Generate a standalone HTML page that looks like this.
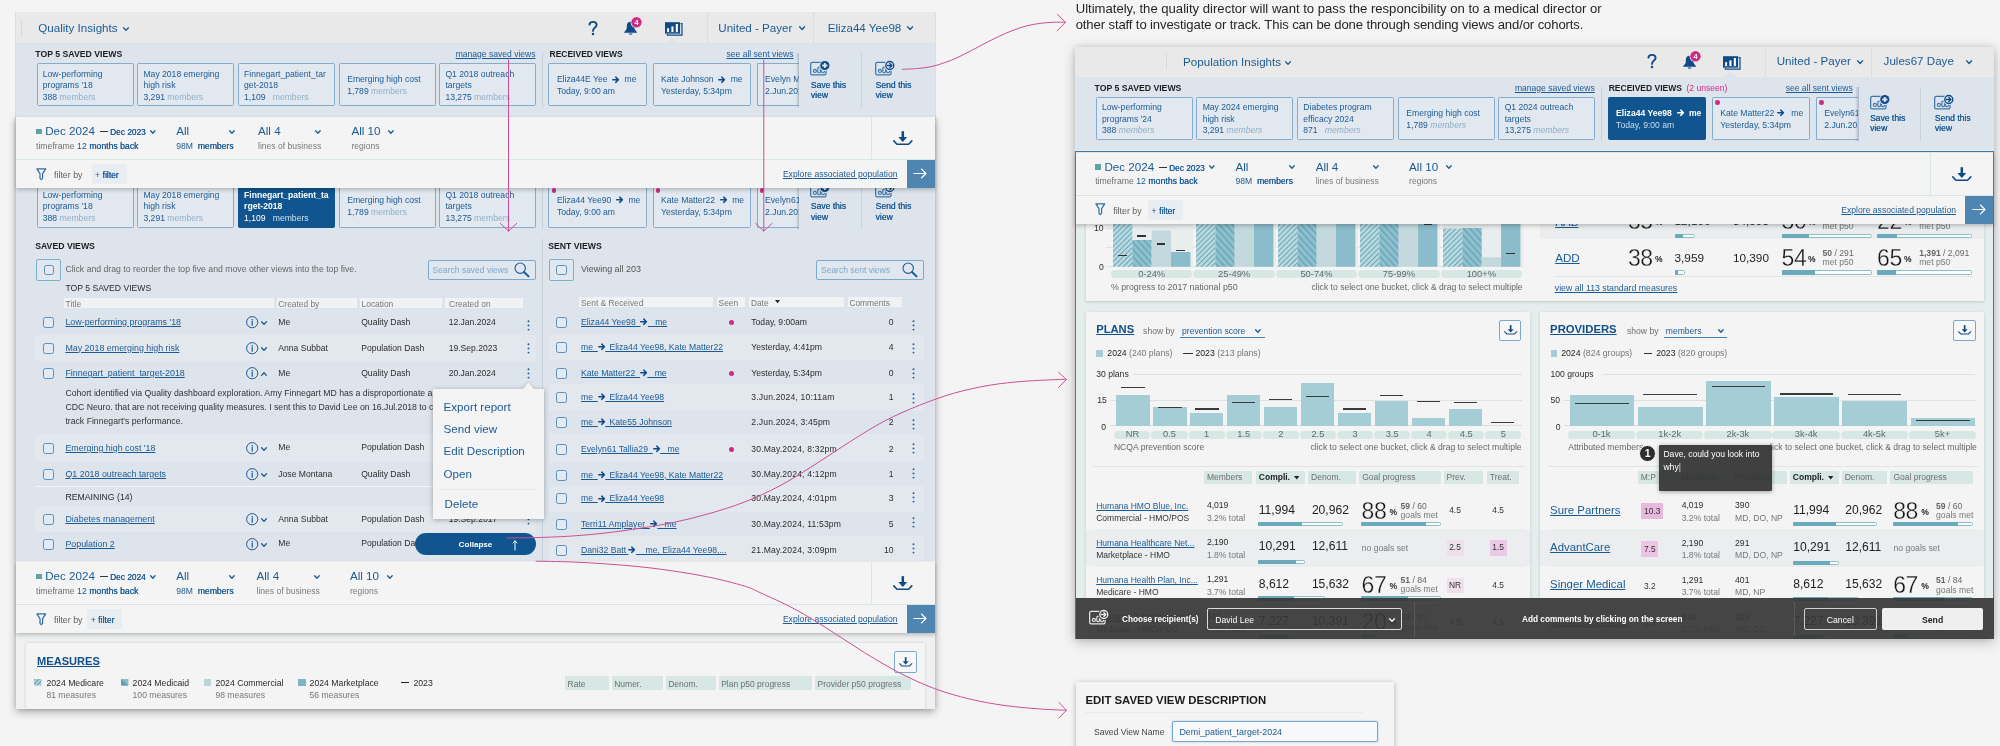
<!DOCTYPE html><html><head><meta charset="utf-8"><title>Saved views</title><style>html,body{margin:0;padding:0}body{width:2000px;height:746px;overflow:hidden;background:#f4f4f4;font-family:"Liberation Sans",sans-serif;position:relative;will-change:transform}div{position:absolute;box-sizing:border-box;white-space:nowrap}svg{position:absolute;overflow:visible}svg.il{position:static;display:inline-block;vertical-align:-0.7px}u{text-decoration:underline;text-decoration-thickness:0.75px;text-underline-offset:0.6px}.sb{text-shadow:0.25px 0 0 currentColor}b{font-weight:700}</style></head><body>
<div style="left:15px;top:11.9px;width:920.9px;height:108.1px;background:#dedede;"></div>
<div style="left:15.5px;top:116.7px;width:919.9px;height:592.1px;background:#eef0f1;box-shadow:0 3px 8px rgba(0,0,0,0.3),0 0 5px rgba(0,0,0,0.12);"></div>
<div style="left:15.5px;top:12.4px;width:919.9px;height:30.6px;background:#e9e9e9;"></div>
<div style="left:21px;top:19px;width:1px;height:17px;background:#d9d9d9;"></div>
<div style="top:21.25px;font-size:11.6px;line-height:14.5px;color:#1b5b95;left:38.3px;">Quality Insights</div>
<svg style="left:122.5px;top:27.1px;" width="6" height="4.2" viewBox="0 0 6 4.2"><path d="M0.6,0.8 L3,3.4 L5.4,0.8" fill="none" stroke="#1b5b95" stroke-width="1.3" stroke-linecap="round" stroke-linejoin="round"/></svg>
<svg style="left:588.2px;top:20.6px;" width="10" height="14.4" viewBox="0 0 10 14.4"><path d="M1.4,3.6 C1.6,1.8 3,0.9 4.9,0.9 C7,0.9 8.6,2.1 8.6,4 C8.6,6.6 5,6.5 5,9.9" fill="none" stroke="#0e4a86" stroke-width="1.9" stroke-linecap="round"/><circle cx="5" cy="13" r="1.25" fill="#0e4a86"/></svg>
<svg style="left:624px;top:17px;" width="20" height="20" viewBox="0 0 20 20"><path d="M6.6,4.8 C3.9,4.8 2.8,6.9 2.8,9.2 V10.8 C2.8,12.6 1.5,13.9 0.3,15 C0,15.4 0.2,15.8 0.7,15.8 H12.5 C13,15.8 13.2,15.4 12.9,15 C11.7,13.9 10.4,12.6 10.4,10.8 V9.2 C10.4,6.9 9.3,4.8 6.6,4.8 Z" fill="#0e4a86"/><path d="M4.6,16.4 a2.1,2.1 0 0 0 4,0 Z" fill="#0e4a86"/><circle cx="12.5" cy="5.3" r="5.9" fill="#f3eef1"/><circle cx="12.5" cy="5.3" r="5.2" fill="#cc2d82"/><text x="12.5" y="8" font-size="7.4" font-weight="700" fill="#fff" text-anchor="middle" font-family="Liberation Sans,sans-serif">4</text></svg>
<svg style="left:664.6px;top:22px;" width="18" height="14" viewBox="0 0 18 14"><path d="M15.6,1.6 H17 V13.2 H2.4 V12" fill="none" stroke="#0e4a86" stroke-width="1.2"/><rect x="0" y="0.2" width="15.1" height="11.5" fill="#0e4a86"/><rect x="2.1" y="6.2" width="2" height="3.8" fill="#fff"/><rect x="6.4" y="4.4" width="2.1" height="5.6" fill="#fff"/><rect x="10.8" y="2" width="2.1" height="8" fill="#fff"/><rect x="1.2" y="10.7" width="12.8" height="0.5" fill="#7fa3c6"/></svg>
<svg style="left:666.2px;top:38px;" width="12.4" height="5.2" viewBox="0 0 12.4 5.2"><path d="M0,5.2 L6.2,0 L12.4,5.2 Z" fill="#dde4ec"/></svg>
<div style="left:707px;top:12.4px;width:1px;height:30.6px;background:#dcdcdc;"></div>
<div style="top:20.55px;font-size:11.6px;line-height:14.5px;color:#1b5b95;left:718.3px;">United - Payer</div>
<svg style="left:798.5px;top:26.45px;" width="6.2" height="4.3" viewBox="0 0 6.2 4.3"><path d="M0.6,0.8 L3.1,3.5 L5.6,0.8" fill="none" stroke="#1b5b95" stroke-width="1.3" stroke-linecap="round" stroke-linejoin="round"/></svg>
<div style="left:813px;top:12.4px;width:1px;height:30.6px;background:#dcdcdc;"></div>
<div style="top:20.55px;font-size:11.6px;line-height:14.5px;color:#1b5b95;left:827.8px;">Eliza44 Yee98</div>
<svg style="left:907.3px;top:26.45px;" width="6.2" height="4.3" viewBox="0 0 6.2 4.3"><path d="M0.6,0.8 L3.1,3.5 L5.6,0.8" fill="none" stroke="#1b5b95" stroke-width="1.3" stroke-linecap="round" stroke-linejoin="round"/></svg>
<div style="left:15.5px;top:43px;width:919.9px;height:73.8px;background:#dde4ec;"></div>
<div style="top:48.55px;font-size:8.7px;line-height:10.9px;color:#1d1d1d;font-weight:700;left:35.3px;">TOP 5 SAVED VIEWS</div>
<div style="top:48.85px;font-size:8.55px;line-height:10.7px;color:#1b5b95;left:455.7px;"><u>manage saved views</u></div>
<div style="top:48.7px;font-size:8.5px;line-height:10.6px;color:#1d1d1d;font-weight:700;left:549.5px;">RECEIVED VIEWS</div>
<div style="top:48.85px;font-size:8.55px;line-height:10.7px;color:#1b5b95;left:726.5px;"><u>see all sent views</u></div>
<div style="left:542px;top:53.3px;width:1px;height:53.9px;background:#c3cfdb;"></div>
<div style="left:36.6px;top:63.4px;width:97px;height:43px;border:1px solid #86accd;background:#e1e8ef;border-radius:1.5px;overflow:hidden;">
<div style="left:5.2px;top:4.35px;font-size:8.6px;line-height:11.5px;color:#1b5b95;">Low-performing</div>
<div style="left:5.2px;top:15.85px;font-size:8.6px;line-height:11.5px;color:#1b5b95;">programs '18</div>
<div style="left:5.2px;top:27.35px;font-size:8.6px;line-height:11.5px;color:#1b5b95;">388 <span style="color:#8fb0c9;">members</span></div>
</div>
<div style="left:137.26px;top:63.4px;width:97px;height:43px;border:1px solid #86accd;background:#e1e8ef;border-radius:1.5px;overflow:hidden;">
<div style="left:5.2px;top:4.35px;font-size:8.6px;line-height:11.5px;color:#1b5b95;">May 2018 emerging</div>
<div style="left:5.2px;top:15.85px;font-size:8.6px;line-height:11.5px;color:#1b5b95;">high risk</div>
<div style="left:5.2px;top:27.35px;font-size:8.6px;line-height:11.5px;color:#1b5b95;">3,291 <span style="color:#8fb0c9;">members</span></div>
</div>
<div style="left:237.92px;top:63.4px;width:97px;height:43px;border:1px solid #86accd;background:#e1e8ef;border-radius:1.5px;overflow:hidden;">
<div style="left:5.2px;top:4.35px;font-size:8.6px;line-height:11.5px;color:#1b5b95;">Finnegart_patient_tar</div>
<div style="left:5.2px;top:15.85px;font-size:8.6px;line-height:11.5px;color:#1b5b95;">get-2018</div>
<div style="left:5.2px;top:27.35px;font-size:8.6px;line-height:11.5px;color:#1b5b95;">1,109 &nbsp; <span style="color:#8fb0c9;">members</span></div>
</div>
<div style="left:338.58px;top:63.4px;width:97px;height:43px;border:1px solid #86accd;background:#e1e8ef;border-radius:1.5px;overflow:hidden;">
<div style="left:7.6px;top:10.1px;font-size:8.6px;line-height:11.5px;color:#1b5b95;">Emerging high cost</div>
<div style="left:7.6px;top:21.6px;font-size:8.6px;line-height:11.5px;color:#1b5b95;">1,789 <span style="color:#8fb0c9;">members</span></div>
</div>
<div style="left:439.24px;top:63.4px;width:97px;height:43px;border:1px solid #86accd;background:#e1e8ef;border-radius:1.5px;overflow:hidden;">
<div style="left:5.2px;top:4.35px;font-size:8.6px;line-height:11.5px;color:#1b5b95;">Q1 2018 outreach</div>
<div style="left:5.2px;top:15.85px;font-size:8.6px;line-height:11.5px;color:#1b5b95;">targets</div>
<div style="left:5.2px;top:27.35px;font-size:8.6px;line-height:11.5px;color:#1b5b95;">13,275 <span style="color:#8fb0c9;">members</span></div>
</div>
<div style="left:548.3px;top:63.4px;width:98.8px;height:43px;border:1px solid #86accd;background:#e1e8ef;border-radius:1.5px;overflow:hidden;">
<div style="left:7.6px;top:10.1px;font-size:8.6px;line-height:11.5px;color:#1b5b95;">Eliza44E Yee &nbsp;<svg class="il" width="7.5" height="7.5" viewBox="0 0 10 10"><path d="M1,5 H8.3 M5,1.5 L8.6,5 L5,8.5" fill="none" stroke="#0e4a86" stroke-width="1.9" stroke-linecap="round" stroke-linejoin="round"/></svg>&nbsp; me</div>
<div style="left:7.6px;top:21.6px;font-size:8.6px;line-height:11.5px;color:#1b5b95;">Today, 9:00 am</div>
</div>
<div style="left:652.5px;top:63.4px;width:98.8px;height:43px;border:1px solid #86accd;background:#e1e8ef;border-radius:1.5px;overflow:hidden;">
<div style="left:7.6px;top:10.1px;font-size:8.6px;line-height:11.5px;color:#1b5b95;">Kate Johnson &nbsp;<svg class="il" width="7.5" height="7.5" viewBox="0 0 10 10"><path d="M1,5 H8.3 M5,1.5 L8.6,5 L5,8.5" fill="none" stroke="#0e4a86" stroke-width="1.9" stroke-linecap="round" stroke-linejoin="round"/></svg>&nbsp; me</div>
<div style="left:7.6px;top:21.6px;font-size:8.6px;line-height:11.5px;color:#1b5b95;">Yesterday, 5:34pm</div>
</div>
<div style="left:756.5px;top:63.4px;width:43px;height:43px;border:1px solid #86accd;background:#e1e8ef;border-radius:1.5px;overflow:hidden;border-right:none;border-radius:1.5px 0 0 1.5px;">
<div style="left:7.6px;top:10.1px;font-size:8.6px;line-height:11.5px;color:#1b5b95;">Evelyn M</div>
<div style="left:7.6px;top:21.6px;font-size:8.6px;line-height:11.5px;color:#1b5b95;">2.Jun.2017</div>
</div>
<div style="left:799px;top:53.3px;width:136px;height:53.7px;background:#dde4ec;"></div>
<div style="left:795.6px;top:53.3px;width:3.8px;height:53.7px;background:linear-gradient(90deg,rgba(70,90,120,0),rgba(70,90,120,0.32));"></div>
<svg style="left:810.3px;top:61.4px;" width="20.6" height="14.6" viewBox="0 0 20.6 14.6"><rect x="0.65" y="1.3" width="15.4" height="12.6" rx="1.6" fill="none" stroke="#3f78ac" stroke-width="1.25"/><circle cx="4.9" cy="9.9" r="1.55" fill="none" stroke="#3f78ac" stroke-width="1.15"/><rect x="7.8" y="6.2" width="2.7" height="5.6" rx="1.35" fill="none" stroke="#3f78ac" stroke-width="1.15"/><rect x="11.7" y="6.2" width="2.7" height="5.6" rx="1.35" fill="none" stroke="#3f78ac" stroke-width="1.15"/><circle cx="14.8" cy="4.5" r="5.5" fill="#dde4ec"/><circle cx="14.8" cy="4.5" r="4.6" fill="#0e4a86"/><path d="M14.8,1.9 V7.1 M12.2,4.5 H17.4" stroke="#dde4ec" stroke-width="1.8"/></svg>
<div style="top:79.6px;font-size:8.6px;line-height:10.8px;color:#1b5b95;left:810.7px;"><span class="sb">Save this</span></div>
<div style="top:89.8px;font-size:8.6px;line-height:10.8px;color:#1b5b95;left:810.7px;"><span class="sb">view</span></div>
<div style="left:861.2px;top:53.3px;width:1px;height:53.7px;background:#c9d4df;"></div>
<svg style="left:874.8px;top:61.4px;" width="20.6" height="14.6" viewBox="0 0 20.6 14.6"><rect x="0.65" y="1.3" width="15.4" height="12.6" rx="1.6" fill="none" stroke="#3f78ac" stroke-width="1.25"/><circle cx="4.9" cy="9.9" r="1.55" fill="none" stroke="#3f78ac" stroke-width="1.15"/><rect x="7.8" y="6.2" width="2.7" height="5.6" rx="1.35" fill="none" stroke="#3f78ac" stroke-width="1.15"/><rect x="11.7" y="6.2" width="2.7" height="5.6" rx="1.35" fill="none" stroke="#3f78ac" stroke-width="1.15"/><circle cx="14.8" cy="4.5" r="5.5" fill="#dde4ec"/><circle cx="14.8" cy="4.5" r="4" fill="#dde4ec" stroke="#0e4a86" stroke-width="1.35"/><path d="M12.4,4.5 H16.6 M14.9,2.5 L17,4.5 L14.9,6.5" fill="none" stroke="#0e4a86" stroke-width="1.3" stroke-linecap="round" stroke-linejoin="round"/></svg>
<div style="top:79.6px;font-size:8.6px;line-height:10.8px;color:#1b5b95;left:875.5px;"><span class="sb">Send this</span></div>
<div style="top:89.8px;font-size:8.6px;line-height:10.8px;color:#1b5b95;left:875.5px;"><span class="sb">view</span></div>
<div style="left:15.5px;top:187px;width:919.9px;height:373.8px;background:#dde4ec;"></div>
<div style="left:542px;top:175.1px;width:1px;height:53.9px;background:#c3cfdb;"></div>
<div style="left:36.6px;top:185.2px;width:97px;height:43px;border:1px solid #86accd;background:#e1e8ef;border-radius:1.5px;overflow:hidden;">
<div style="left:5.2px;top:3.35px;font-size:8.6px;line-height:11.5px;color:#1b5b95;">Low-performing</div>
<div style="left:5.2px;top:14.85px;font-size:8.6px;line-height:11.5px;color:#1b5b95;">programs '18</div>
<div style="left:5.2px;top:26.35px;font-size:8.6px;line-height:11.5px;color:#1b5b95;">388 <span style="color:#8fb0c9;">members</span></div>
</div>
<div style="left:137.26px;top:185.2px;width:97px;height:43px;border:1px solid #86accd;background:#e1e8ef;border-radius:1.5px;overflow:hidden;">
<div style="left:5.2px;top:3.35px;font-size:8.6px;line-height:11.5px;color:#1b5b95;">May 2018 emerging</div>
<div style="left:5.2px;top:14.85px;font-size:8.6px;line-height:11.5px;color:#1b5b95;">high risk</div>
<div style="left:5.2px;top:26.35px;font-size:8.6px;line-height:11.5px;color:#1b5b95;">3,291 <span style="color:#8fb0c9;">members</span></div>
</div>
<div style="left:237.92px;top:185.2px;width:97px;height:43px;border:1px solid #10558f;background:#10558f;border-radius:1.5px;overflow:hidden;">
<div style="left:5.2px;top:3.35px;font-size:8.6px;line-height:11.5px;color:#fff;"><b>Finnegart_patient_ta</b></div>
<div style="left:5.2px;top:14.85px;font-size:8.6px;line-height:11.5px;color:#fff;"><b>rget-2018</b></div>
<div style="left:5.2px;top:26.35px;font-size:8.6px;line-height:11.5px;color:#fff;">1,109 &nbsp; <span style="color:#cfe0ee;">members</span></div>
</div>
<div style="left:338.58px;top:185.2px;width:97px;height:43px;border:1px solid #86accd;background:#e1e8ef;border-radius:1.5px;overflow:hidden;">
<div style="left:7.6px;top:9.1px;font-size:8.6px;line-height:11.5px;color:#1b5b95;">Emerging high cost</div>
<div style="left:7.6px;top:20.6px;font-size:8.6px;line-height:11.5px;color:#1b5b95;">1,789 <span style="color:#8fb0c9;">members</span></div>
</div>
<div style="left:439.24px;top:185.2px;width:97px;height:43px;border:1px solid #86accd;background:#e1e8ef;border-radius:1.5px;overflow:hidden;">
<div style="left:5.2px;top:3.35px;font-size:8.6px;line-height:11.5px;color:#1b5b95;">Q1 2018 outreach</div>
<div style="left:5.2px;top:14.85px;font-size:8.6px;line-height:11.5px;color:#1b5b95;">targets</div>
<div style="left:5.2px;top:26.35px;font-size:8.6px;line-height:11.5px;color:#1b5b95;">13,275 <span style="color:#8fb0c9;">members</span></div>
</div>
<div style="left:548.3px;top:185.2px;width:98.8px;height:43px;border:1px solid #86accd;background:#e1e8ef;border-radius:1.5px;overflow:hidden;">
<div style="left:7.6px;top:9.1px;font-size:8.6px;line-height:11.5px;color:#1b5b95;">Eliza44 Yee90 &nbsp;<svg class="il" width="7.5" height="7.5" viewBox="0 0 10 10"><path d="M1,5 H8.3 M5,1.5 L8.6,5 L5,8.5" fill="none" stroke="#0e4a86" stroke-width="1.9" stroke-linecap="round" stroke-linejoin="round"/></svg>&nbsp; me</div>
<div style="left:7.6px;top:20.6px;font-size:8.6px;line-height:11.5px;color:#1b5b95;">Today, 9:00 am</div>
</div>
<div style="left:551.6px;top:188.3px;width:4.6px;height:4.6px;border-radius:50%;background:#cc2d82;"></div>
<div style="left:652.5px;top:185.2px;width:98.8px;height:43px;border:1px solid #86accd;background:#e1e8ef;border-radius:1.5px;overflow:hidden;">
<div style="left:7.6px;top:9.1px;font-size:8.6px;line-height:11.5px;color:#1b5b95;">Kate Matter22 &nbsp;<svg class="il" width="7.5" height="7.5" viewBox="0 0 10 10"><path d="M1,5 H8.3 M5,1.5 L8.6,5 L5,8.5" fill="none" stroke="#0e4a86" stroke-width="1.9" stroke-linecap="round" stroke-linejoin="round"/></svg>&nbsp; me</div>
<div style="left:7.6px;top:20.6px;font-size:8.6px;line-height:11.5px;color:#1b5b95;">Yesterday, 5:34pm</div>
</div>
<div style="left:655.8px;top:188.3px;width:4.6px;height:4.6px;border-radius:50%;background:#cc2d82;"></div>
<div style="left:756.5px;top:185.2px;width:43px;height:43px;border:1px solid #86accd;background:#e1e8ef;border-radius:1.5px;overflow:hidden;border-right:none;border-radius:1.5px 0 0 1.5px;">
<div style="left:7.6px;top:9.1px;font-size:8.6px;line-height:11.5px;color:#1b5b95;">Evelyn61</div>
<div style="left:7.6px;top:20.6px;font-size:8.6px;line-height:11.5px;color:#1b5b95;">2.Jun.2017</div>
</div>
<div style="left:759.8px;top:188.3px;width:4.6px;height:4.6px;border-radius:50%;background:#cc2d82;"></div>
<div style="left:799px;top:175.1px;width:136px;height:53.7px;background:#dde4ec;"></div>
<div style="left:795.6px;top:175.1px;width:3.8px;height:53.7px;background:linear-gradient(90deg,rgba(70,90,120,0),rgba(70,90,120,0.32));"></div>
<svg style="left:810.3px;top:183.2px;" width="20.6" height="14.6" viewBox="0 0 20.6 14.6"><rect x="0.65" y="1.3" width="15.4" height="12.6" rx="1.6" fill="none" stroke="#3f78ac" stroke-width="1.25"/><circle cx="4.9" cy="9.9" r="1.55" fill="none" stroke="#3f78ac" stroke-width="1.15"/><rect x="7.8" y="6.2" width="2.7" height="5.6" rx="1.35" fill="none" stroke="#3f78ac" stroke-width="1.15"/><rect x="11.7" y="6.2" width="2.7" height="5.6" rx="1.35" fill="none" stroke="#3f78ac" stroke-width="1.15"/><circle cx="14.8" cy="4.5" r="5.5" fill="#dde4ec"/><circle cx="14.8" cy="4.5" r="4.6" fill="#0e4a86"/><path d="M14.8,1.9 V7.1 M12.2,4.5 H17.4" stroke="#dde4ec" stroke-width="1.8"/></svg>
<div style="top:201.4px;font-size:8.6px;line-height:10.8px;color:#1b5b95;left:810.7px;"><span class="sb">Save this</span></div>
<div style="top:211.6px;font-size:8.6px;line-height:10.8px;color:#1b5b95;left:810.7px;"><span class="sb">view</span></div>
<div style="left:861.2px;top:175.1px;width:1px;height:53.7px;background:#c9d4df;"></div>
<svg style="left:874.8px;top:183.2px;" width="20.6" height="14.6" viewBox="0 0 20.6 14.6"><rect x="0.65" y="1.3" width="15.4" height="12.6" rx="1.6" fill="none" stroke="#3f78ac" stroke-width="1.25"/><circle cx="4.9" cy="9.9" r="1.55" fill="none" stroke="#3f78ac" stroke-width="1.15"/><rect x="7.8" y="6.2" width="2.7" height="5.6" rx="1.35" fill="none" stroke="#3f78ac" stroke-width="1.15"/><rect x="11.7" y="6.2" width="2.7" height="5.6" rx="1.35" fill="none" stroke="#3f78ac" stroke-width="1.15"/><circle cx="14.8" cy="4.5" r="5.5" fill="#dde4ec"/><circle cx="14.8" cy="4.5" r="4" fill="#dde4ec" stroke="#0e4a86" stroke-width="1.35"/><path d="M12.4,4.5 H16.6 M14.9,2.5 L17,4.5 L14.9,6.5" fill="none" stroke="#0e4a86" stroke-width="1.3" stroke-linecap="round" stroke-linejoin="round"/></svg>
<div style="top:201.4px;font-size:8.6px;line-height:10.8px;color:#1b5b95;left:875.5px;"><span class="sb">Send this</span></div>
<div style="top:211.6px;font-size:8.6px;line-height:10.8px;color:#1b5b95;left:875.5px;"><span class="sb">view</span></div>
<div style="left:542.2px;top:239px;width:1px;height:321.8px;background:#c3cfdb;"></div>
<div style="top:240.85px;font-size:8.7px;line-height:10.9px;color:#1d1d1d;font-weight:700;left:35.2px;">SAVED VIEWS</div>
<div style="left:36.4px;top:259.3px;width:25px;height:21.4px;border:1px solid #7fb0cb;border-radius:2px;background:#e0e7ee;"></div>
<div style="left:43.6px;top:264.6px;width:10.9px;height:10.9px;border:1.25px solid #5a90bb;border-radius:2.4px;background:#e4eaf1;"></div>
<div style="top:264.15px;font-size:8.7px;line-height:10.9px;color:#666;left:65.4px;">Click and drag to reorder the top five and move other views into the top five.</div>
<div style="left:427.5px;top:259.6px;width:108.3px;height:20.7px;border:1px solid #7ba8cc;border-radius:2px;background:#e0e7ee;"></div>
<div style="top:264.9px;font-size:8.5px;line-height:10.6px;color:#7ba8cc;left:432.6px;">Search saved views</div>
<svg style="left:513.8px;top:262.2px;" width="16" height="15.6" viewBox="0 0 16 15.6"><circle cx="6.2" cy="6.2" r="5.2" fill="none" stroke="#1b5b95" stroke-width="1.1"/><path d="M10,10 L14.6,14.4" stroke="#1b5b95" stroke-width="2" stroke-linecap="round"/></svg>
<div style="top:282.6px;font-size:8.65px;line-height:10.8px;color:#2a2a2a;left:65.4px;">TOP 5 SAVED VIEWS</div>
<div style="left:64px;top:298.4px;width:209.6px;height:10.1px;background:#f1f2f3;"></div>
<div style="top:299.25px;font-size:8.4px;line-height:10.5px;color:#777;left:65.6px;">Title</div>
<div style="left:276.7px;top:298.4px;width:80.3px;height:10.1px;background:#f1f2f3;"></div>
<div style="top:299.25px;font-size:8.4px;line-height:10.5px;color:#777;left:278.3px;">Created by</div>
<div style="left:360px;top:298.4px;width:82.2px;height:10.1px;background:#f1f2f3;"></div>
<div style="top:299.25px;font-size:8.4px;line-height:10.5px;color:#777;left:361.6px;">Location</div>
<div style="left:445.2px;top:298.4px;width:77.9px;height:10.1px;background:#f1f2f3;"></div>
<div style="top:299.25px;font-size:8.4px;line-height:10.5px;color:#777;left:446.8px;">&nbsp;Created on</div>
<div style="left:35.2px;top:335.1px;width:500.6px;height:25.6px;background:#e3e8ef;"></div>
<div style="left:35.2px;top:435.4px;width:500.6px;height:25.6px;background:#e3e8ef;"></div>
<div style="left:35.2px;top:506.8px;width:500.6px;height:25.6px;background:#e3e8ef;"></div>
<div style="left:42.8px;top:317.1px;width:11px;height:11px;border:1.25px solid #5a90bb;border-radius:2.4px;background:#e4eaf1;"></div>
<div style="top:316.95px;font-size:8.9px;line-height:11.1px;color:#1b5b95;left:65.4px;"><u>Low-performing programs '18</u></div>
<svg style="left:245.8px;top:316.1px;" width="12.4" height="12.4" viewBox="0 0 12.4 12.4"><circle cx="6.2" cy="6.2" r="5.6" fill="none" stroke="#1b5b95" stroke-width="1"/><circle cx="6.2" cy="3.7" r="0.8" fill="#1b5b95"/><path d="M6.2,5.4 V9.2" stroke="#1b5b95" stroke-width="1.2" stroke-linecap="round"/></svg>
<svg style="left:261.3px;top:321px;" width="6" height="4.2" viewBox="0 0 6 4.2"><path d="M0.6,0.8 L3,3.4 L5.4,0.8" fill="none" stroke="#1b5b95" stroke-width="1.3" stroke-linecap="round" stroke-linejoin="round"/></svg>
<div style="top:317.1px;font-size:8.6px;line-height:10.8px;color:#2d2d2d;left:278.3px;">Me</div>
<div style="top:317.1px;font-size:8.6px;line-height:10.8px;color:#2d2d2d;left:361.2px;">Quality Dash</div>
<div style="top:317.15px;font-size:8.55px;line-height:10.7px;color:#2d2d2d;left:448.7px;">12.Jan.2024</div>
<svg style="left:526.8px;top:319.5px;" width="3" height="10.8" viewBox="0 0 3 10.8"><circle cx="1.5" cy="1.2" r="0.95" fill="#1b5b95"/><circle cx="1.5" cy="5.4" r="0.95" fill="#1b5b95"/><circle cx="1.5" cy="9.6" r="0.95" fill="#1b5b95"/></svg>
<div style="left:42.8px;top:342.7px;width:11px;height:11px;border:1.25px solid #5a90bb;border-radius:2.4px;background:#e4eaf1;"></div>
<div style="top:342.55px;font-size:8.9px;line-height:11.1px;color:#1b5b95;left:65.4px;"><u>May 2018 emerging high risk</u></div>
<svg style="left:245.8px;top:341.7px;" width="12.4" height="12.4" viewBox="0 0 12.4 12.4"><circle cx="6.2" cy="6.2" r="5.6" fill="none" stroke="#1b5b95" stroke-width="1"/><circle cx="6.2" cy="3.7" r="0.8" fill="#1b5b95"/><path d="M6.2,5.4 V9.2" stroke="#1b5b95" stroke-width="1.2" stroke-linecap="round"/></svg>
<svg style="left:261.3px;top:346.6px;" width="6" height="4.2" viewBox="0 0 6 4.2"><path d="M0.6,0.8 L3,3.4 L5.4,0.8" fill="none" stroke="#1b5b95" stroke-width="1.3" stroke-linecap="round" stroke-linejoin="round"/></svg>
<div style="top:342.7px;font-size:8.6px;line-height:10.8px;color:#2d2d2d;left:278.3px;">Anna Subbat</div>
<div style="top:342.7px;font-size:8.6px;line-height:10.8px;color:#2d2d2d;left:361.2px;">Population Dash</div>
<div style="top:342.75px;font-size:8.55px;line-height:10.7px;color:#2d2d2d;left:448.7px;">19.Sep.2023</div>
<svg style="left:526.8px;top:343.2px;" width="3" height="10.8" viewBox="0 0 3 10.8"><circle cx="1.5" cy="1.2" r="0.95" fill="#1b5b95"/><circle cx="1.5" cy="5.4" r="0.95" fill="#1b5b95"/><circle cx="1.5" cy="9.6" r="0.95" fill="#1b5b95"/></svg>
<div style="left:42.8px;top:368px;width:11px;height:11px;border:1.25px solid #5a90bb;border-radius:2.4px;background:#e4eaf1;"></div>
<div style="top:367.85px;font-size:8.9px;line-height:11.1px;color:#1b5b95;left:65.4px;"><u>Finnegart_patient_target-2018</u></div>
<svg style="left:245.8px;top:367px;" width="12.4" height="12.4" viewBox="0 0 12.4 12.4"><circle cx="6.2" cy="6.2" r="5.6" fill="none" stroke="#1b5b95" stroke-width="1"/><circle cx="6.2" cy="3.7" r="0.8" fill="#1b5b95"/><path d="M6.2,5.4 V9.2" stroke="#1b5b95" stroke-width="1.2" stroke-linecap="round"/></svg>
<svg style="left:261.3px;top:371.9px;" width="6" height="4.2" viewBox="0 0 6 4.2"><path d="M0.6,3.4 L3,0.8 L5.4,3.4" fill="none" stroke="#1b5b95" stroke-width="1.3" stroke-linecap="round" stroke-linejoin="round"/></svg>
<div style="top:368px;font-size:8.6px;line-height:10.8px;color:#2d2d2d;left:278.3px;">Me</div>
<div style="top:368px;font-size:8.6px;line-height:10.8px;color:#2d2d2d;left:361.2px;">Quality Dash</div>
<div style="top:368.05px;font-size:8.55px;line-height:10.7px;color:#2d2d2d;left:448.7px;">20.Jan.2024</div>
<svg style="left:526.8px;top:367.6px;" width="3" height="10.8" viewBox="0 0 3 10.8"><circle cx="1.5" cy="1.2" r="0.95" fill="#1b5b95"/><circle cx="1.5" cy="5.4" r="0.95" fill="#1b5b95"/><circle cx="1.5" cy="9.6" r="0.95" fill="#1b5b95"/></svg>
<div style="left:42.8px;top:443px;width:11px;height:11px;border:1.25px solid #5a90bb;border-radius:2.4px;background:#e4eaf1;"></div>
<div style="top:442.85px;font-size:8.9px;line-height:11.1px;color:#1b5b95;left:65.4px;"><u>Emerging high cost '18</u></div>
<svg style="left:245.8px;top:442px;" width="12.4" height="12.4" viewBox="0 0 12.4 12.4"><circle cx="6.2" cy="6.2" r="5.6" fill="none" stroke="#1b5b95" stroke-width="1"/><circle cx="6.2" cy="3.7" r="0.8" fill="#1b5b95"/><path d="M6.2,5.4 V9.2" stroke="#1b5b95" stroke-width="1.2" stroke-linecap="round"/></svg>
<svg style="left:261.3px;top:446.9px;" width="6" height="4.2" viewBox="0 0 6 4.2"><path d="M0.6,0.8 L3,3.4 L5.4,0.8" fill="none" stroke="#1b5b95" stroke-width="1.3" stroke-linecap="round" stroke-linejoin="round"/></svg>
<div style="top:441.8px;font-size:8.6px;line-height:10.8px;color:#2d2d2d;left:278.3px;">Me</div>
<div style="top:441.8px;font-size:8.6px;line-height:10.8px;color:#2d2d2d;left:361.2px;">Population Dash</div>
<svg style="left:526.8px;top:446px;" width="3" height="10.8" viewBox="0 0 3 10.8"><circle cx="1.5" cy="1.2" r="0.95" fill="#1b5b95"/><circle cx="1.5" cy="5.4" r="0.95" fill="#1b5b95"/><circle cx="1.5" cy="9.6" r="0.95" fill="#1b5b95"/></svg>
<div style="left:42.8px;top:469.2px;width:11px;height:11px;border:1.25px solid #5a90bb;border-radius:2.4px;background:#e4eaf1;"></div>
<div style="top:469.05px;font-size:8.9px;line-height:11.1px;color:#1b5b95;left:65.4px;"><u>Q1 2018 outreach targets</u></div>
<svg style="left:245.8px;top:468.2px;" width="12.4" height="12.4" viewBox="0 0 12.4 12.4"><circle cx="6.2" cy="6.2" r="5.6" fill="none" stroke="#1b5b95" stroke-width="1"/><circle cx="6.2" cy="3.7" r="0.8" fill="#1b5b95"/><path d="M6.2,5.4 V9.2" stroke="#1b5b95" stroke-width="1.2" stroke-linecap="round"/></svg>
<svg style="left:261.3px;top:473.1px;" width="6" height="4.2" viewBox="0 0 6 4.2"><path d="M0.6,0.8 L3,3.4 L5.4,0.8" fill="none" stroke="#1b5b95" stroke-width="1.3" stroke-linecap="round" stroke-linejoin="round"/></svg>
<div style="top:469.2px;font-size:8.6px;line-height:10.8px;color:#2d2d2d;left:278.3px;">Jose Montana</div>
<div style="top:469.2px;font-size:8.6px;line-height:10.8px;color:#2d2d2d;left:361.2px;">Quality Dash</div>
<svg style="left:526.8px;top:472.2px;" width="3" height="10.8" viewBox="0 0 3 10.8"><circle cx="1.5" cy="1.2" r="0.95" fill="#1b5b95"/><circle cx="1.5" cy="5.4" r="0.95" fill="#1b5b95"/><circle cx="1.5" cy="9.6" r="0.95" fill="#1b5b95"/></svg>
<div style="left:42.8px;top:514px;width:11px;height:11px;border:1.25px solid #5a90bb;border-radius:2.4px;background:#e4eaf1;"></div>
<div style="top:514.25px;font-size:8.9px;line-height:11.1px;color:#1b5b95;left:65.4px;"><u>Diabetes management</u></div>
<svg style="left:245.8px;top:513.4px;" width="12.4" height="12.4" viewBox="0 0 12.4 12.4"><circle cx="6.2" cy="6.2" r="5.6" fill="none" stroke="#1b5b95" stroke-width="1"/><circle cx="6.2" cy="3.7" r="0.8" fill="#1b5b95"/><path d="M6.2,5.4 V9.2" stroke="#1b5b95" stroke-width="1.2" stroke-linecap="round"/></svg>
<svg style="left:261.3px;top:518.3px;" width="6" height="4.2" viewBox="0 0 6 4.2"><path d="M0.6,0.8 L3,3.4 L5.4,0.8" fill="none" stroke="#1b5b95" stroke-width="1.3" stroke-linecap="round" stroke-linejoin="round"/></svg>
<div style="top:514.4px;font-size:8.6px;line-height:10.8px;color:#2d2d2d;left:278.3px;">Anna Subbat</div>
<div style="top:514.4px;font-size:8.6px;line-height:10.8px;color:#2d2d2d;left:361.2px;">Population Dash</div>
<div style="top:514.45px;font-size:8.55px;line-height:10.7px;color:#2d2d2d;left:448.7px;">19.Sep.2017</div>
<svg style="left:526.8px;top:514.2px;" width="3" height="10.8" viewBox="0 0 3 10.8"><circle cx="1.5" cy="1.2" r="0.95" fill="#1b5b95"/><circle cx="1.5" cy="5.4" r="0.95" fill="#1b5b95"/><circle cx="1.5" cy="9.6" r="0.95" fill="#1b5b95"/></svg>
<div style="left:42.8px;top:538.9px;width:11px;height:11px;border:1.25px solid #5a90bb;border-radius:2.4px;background:#e4eaf1;"></div>
<div style="top:539.15px;font-size:8.9px;line-height:11.1px;color:#1b5b95;left:65.4px;"><u>Population 2</u></div>
<svg style="left:245.8px;top:538.3px;" width="12.4" height="12.4" viewBox="0 0 12.4 12.4"><circle cx="6.2" cy="6.2" r="5.6" fill="none" stroke="#1b5b95" stroke-width="1"/><circle cx="6.2" cy="3.7" r="0.8" fill="#1b5b95"/><path d="M6.2,5.4 V9.2" stroke="#1b5b95" stroke-width="1.2" stroke-linecap="round"/></svg>
<svg style="left:261.3px;top:543.2px;" width="6" height="4.2" viewBox="0 0 6 4.2"><path d="M0.6,0.8 L3,3.4 L5.4,0.8" fill="none" stroke="#1b5b95" stroke-width="1.3" stroke-linecap="round" stroke-linejoin="round"/></svg>
<div style="top:538.1px;font-size:8.6px;line-height:10.8px;color:#2d2d2d;left:278.3px;">Me</div>
<div style="top:538.1px;font-size:8.6px;line-height:10.8px;color:#2d2d2d;left:361.2px;">Population Dash</div>
<svg style="left:526.8px;top:542.3px;" width="3" height="10.8" viewBox="0 0 3 10.8"><circle cx="1.5" cy="1.2" r="0.95" fill="#1b5b95"/><circle cx="1.5" cy="5.4" r="0.95" fill="#1b5b95"/><circle cx="1.5" cy="9.6" r="0.95" fill="#1b5b95"/></svg>
<div style="top:388.05px;font-size:8.7px;line-height:10.9px;color:#333;left:65.4px;">Cohort identified via Quality dashboard exploration. Amy Finnegart MD has a disproportionate amount</div>
<div style="top:402.15px;font-size:8.7px;line-height:10.9px;color:#333;left:65.4px;">CDC Neuro. that are not receiving quality measures. I sent this to David Lee on 16.Jul.2018 to continue</div>
<div style="top:416.25px;font-size:8.7px;line-height:10.9px;color:#333;left:65.4px;">track Finnegart's performance.</div>
<div style="left:35.2px;top:486.2px;width:500.6px;height:1.2px;background:#f3f5f7;"></div>
<div style="top:492.35px;font-size:8.7px;line-height:10.9px;color:#2a2a2a;left:65.4px;">REMAINING (14)</div>
<div style="top:240.85px;font-size:8.7px;line-height:10.9px;color:#1d1d1d;font-weight:700;left:548.2px;">SENT VIEWS</div>
<div style="left:549.3px;top:259.3px;width:24.8px;height:21.4px;border:1px solid #7fb0cb;border-radius:2px;background:#e0e7ee;"></div>
<div style="left:556.3px;top:264.6px;width:10.9px;height:10.9px;border:1.25px solid #5a90bb;border-radius:2.4px;background:#e4eaf1;"></div>
<div style="top:264px;font-size:8.95px;line-height:11.2px;color:#555;left:581px;">Viewing all 203</div>
<div style="left:816px;top:259.6px;width:108.3px;height:20.7px;border:1px solid #7ba8cc;border-radius:2px;background:#e0e7ee;"></div>
<div style="top:264.9px;font-size:8.5px;line-height:10.6px;color:#7ba8cc;left:821px;">Search sent views</div>
<svg style="left:902.4px;top:262.2px;" width="16" height="15.6" viewBox="0 0 16 15.6"><circle cx="6.2" cy="6.2" r="5.2" fill="none" stroke="#1b5b95" stroke-width="1.1"/><path d="M10,10 L14.6,14.4" stroke="#1b5b95" stroke-width="2" stroke-linecap="round"/></svg>
<div style="left:579.4px;top:297px;width:133.4px;height:10px;background:#f1f2f3;"></div>
<div style="top:297.75px;font-size:8.4px;line-height:10.5px;color:#777;left:581px;">Sent &amp; Received</div>
<div style="left:717px;top:297px;width:28.2px;height:10px;background:#f1f2f3;"></div>
<div style="top:297.75px;font-size:8.4px;line-height:10.5px;color:#777;left:718.6px;">Seen</div>
<div style="left:749.3px;top:297px;width:94.9px;height:10px;background:#f1f2f3;"></div>
<div style="top:297.75px;font-size:8.4px;line-height:10.5px;color:#777;left:750.9px;">Date</div>
<div style="left:847.8px;top:297px;width:53.8px;height:10px;background:#f1f2f3;"></div>
<div style="top:297.75px;font-size:8.4px;line-height:10.5px;color:#777;left:849.4px;">Comments</div>
<svg style="left:775.2px;top:300.4px;" width="5" height="3.4" viewBox="0 0 5 3.4"><path d="M0,0 H5 L2.5,3.2 Z" fill="#222"/></svg>
<div style="left:549.3px;top:334.6px;width:375px;height:25.8px;background:#e3e8ef;"></div>
<div style="left:549.3px;top:384px;width:375px;height:27.2px;background:#e3e8ef;"></div>
<div style="left:549.3px;top:434.4px;width:375px;height:28.1px;background:#e3e8ef;"></div>
<div style="left:549.3px;top:485.7px;width:375px;height:26.2px;background:#e3e8ef;"></div>
<div style="left:549.3px;top:536.2px;width:375px;height:24.6px;background:#e3e8ef;"></div>
<div style="left:555.6px;top:317px;width:11px;height:11px;border:1.25px solid #5a90bb;border-radius:2.4px;background:#e4eaf1;"></div>
<div style="top:317px;font-size:8.65px;line-height:10.8px;color:#1b5b95;left:581px;"><u>Eliza44 Yee98 &nbsp;<svg class="il" width="7.5" height="7.5" viewBox="0 0 10 10"><path d="M1,5 H8.3 M5,1.5 L8.6,5 L5,8.5" fill="none" stroke="#0e4a86" stroke-width="1.9" stroke-linecap="round" stroke-linejoin="round"/></svg>&nbsp;&nbsp; me</u></div>
<div style="left:729px;top:319.7px;width:5px;height:5px;border-radius:50%;background:#cc2d82;"></div>
<div style="top:316.8px;font-size:8.6px;line-height:10.8px;color:#2d2d2d;left:751.3px;">Today, 9:00am</div>
<div style="top:316.8px;font-size:8.6px;line-height:10.8px;color:#2d2d2d;right:1106.4px;">0</div>
<svg style="left:912.3px;top:319.5px;" width="3" height="10.8" viewBox="0 0 3 10.8"><circle cx="1.5" cy="1.2" r="0.95" fill="#1b5b95"/><circle cx="1.5" cy="5.4" r="0.95" fill="#1b5b95"/><circle cx="1.5" cy="9.6" r="0.95" fill="#1b5b95"/></svg>
<div style="left:555.6px;top:342.1px;width:11px;height:11px;border:1.25px solid #5a90bb;border-radius:2.4px;background:#e4eaf1;"></div>
<div style="top:342.1px;font-size:8.65px;line-height:10.8px;color:#1b5b95;left:581px;"><u>me &nbsp;<svg class="il" width="7.5" height="7.5" viewBox="0 0 10 10"><path d="M1,5 H8.3 M5,1.5 L8.6,5 L5,8.5" fill="none" stroke="#0e4a86" stroke-width="1.9" stroke-linecap="round" stroke-linejoin="round"/></svg>&#8201; Eliza44 Yee98, Kate Matter22</u></div>
<div style="top:341.9px;font-size:8.6px;line-height:10.8px;color:#2d2d2d;left:751.3px;">Yesterday, 4:41pm</div>
<div style="top:341.9px;font-size:8.6px;line-height:10.8px;color:#2d2d2d;right:1106.4px;">4</div>
<svg style="left:912.3px;top:343.2px;" width="3" height="10.8" viewBox="0 0 3 10.8"><circle cx="1.5" cy="1.2" r="0.95" fill="#1b5b95"/><circle cx="1.5" cy="5.4" r="0.95" fill="#1b5b95"/><circle cx="1.5" cy="9.6" r="0.95" fill="#1b5b95"/></svg>
<div style="left:555.6px;top:367.9px;width:11px;height:11px;border:1.25px solid #5a90bb;border-radius:2.4px;background:#e4eaf1;"></div>
<div style="top:367.9px;font-size:8.65px;line-height:10.8px;color:#1b5b95;left:581px;"><u>Kate Matter22 &nbsp;<svg class="il" width="7.5" height="7.5" viewBox="0 0 10 10"><path d="M1,5 H8.3 M5,1.5 L8.6,5 L5,8.5" fill="none" stroke="#0e4a86" stroke-width="1.9" stroke-linecap="round" stroke-linejoin="round"/></svg>&nbsp;&nbsp; me</u></div>
<div style="left:729px;top:370.6px;width:5px;height:5px;border-radius:50%;background:#cc2d82;"></div>
<div style="top:367.7px;font-size:8.6px;line-height:10.8px;color:#2d2d2d;left:751.3px;">Yesterday, 5:34pm</div>
<div style="top:367.7px;font-size:8.6px;line-height:10.8px;color:#2d2d2d;right:1106.4px;">0</div>
<svg style="left:912.3px;top:367.6px;" width="3" height="10.8" viewBox="0 0 3 10.8"><circle cx="1.5" cy="1.2" r="0.95" fill="#1b5b95"/><circle cx="1.5" cy="5.4" r="0.95" fill="#1b5b95"/><circle cx="1.5" cy="9.6" r="0.95" fill="#1b5b95"/></svg>
<div style="left:555.6px;top:391.8px;width:11px;height:11px;border:1.25px solid #5a90bb;border-radius:2.4px;background:#e4eaf1;"></div>
<div style="top:391.8px;font-size:8.65px;line-height:10.8px;color:#1b5b95;left:581px;"><u>me &nbsp;<svg class="il" width="7.5" height="7.5" viewBox="0 0 10 10"><path d="M1,5 H8.3 M5,1.5 L8.6,5 L5,8.5" fill="none" stroke="#0e4a86" stroke-width="1.9" stroke-linecap="round" stroke-linejoin="round"/></svg>&#8201; Eliza44 Yee98</u></div>
<div style="top:391.6px;font-size:8.6px;line-height:10.8px;color:#2d2d2d;left:751.3px;letter-spacing:0.16px;">3.Jun.2024, 10:11am</div>
<div style="top:391.6px;font-size:8.6px;line-height:10.8px;color:#2d2d2d;right:1106.4px;">1</div>
<svg style="left:912.3px;top:393px;" width="3" height="10.8" viewBox="0 0 3 10.8"><circle cx="1.5" cy="1.2" r="0.95" fill="#1b5b95"/><circle cx="1.5" cy="5.4" r="0.95" fill="#1b5b95"/><circle cx="1.5" cy="9.6" r="0.95" fill="#1b5b95"/></svg>
<div style="left:555.6px;top:416.9px;width:11px;height:11px;border:1.25px solid #5a90bb;border-radius:2.4px;background:#e4eaf1;"></div>
<div style="top:416.9px;font-size:8.65px;line-height:10.8px;color:#1b5b95;left:581px;"><u>me &nbsp;<svg class="il" width="7.5" height="7.5" viewBox="0 0 10 10"><path d="M1,5 H8.3 M5,1.5 L8.6,5 L5,8.5" fill="none" stroke="#0e4a86" stroke-width="1.9" stroke-linecap="round" stroke-linejoin="round"/></svg>&#8201; Kate55 Johnson</u></div>
<div style="top:416.7px;font-size:8.6px;line-height:10.8px;color:#2d2d2d;left:751.3px;letter-spacing:0.16px;">2.Jun.2024, 3:45pm</div>
<div style="top:416.7px;font-size:8.6px;line-height:10.8px;color:#2d2d2d;right:1106.4px;">2</div>
<svg style="left:912.3px;top:418.8px;" width="3" height="10.8" viewBox="0 0 3 10.8"><circle cx="1.5" cy="1.2" r="0.95" fill="#1b5b95"/><circle cx="1.5" cy="5.4" r="0.95" fill="#1b5b95"/><circle cx="1.5" cy="9.6" r="0.95" fill="#1b5b95"/></svg>
<div style="left:555.6px;top:443.9px;width:11px;height:11px;border:1.25px solid #5a90bb;border-radius:2.4px;background:#e4eaf1;"></div>
<div style="top:443.9px;font-size:8.65px;line-height:10.8px;color:#1b5b95;left:581px;"><u>Evelyn61 Tallia29 &nbsp;<svg class="il" width="7.5" height="7.5" viewBox="0 0 10 10"><path d="M1,5 H8.3 M5,1.5 L8.6,5 L5,8.5" fill="none" stroke="#0e4a86" stroke-width="1.9" stroke-linecap="round" stroke-linejoin="round"/></svg>&nbsp;&nbsp; me</u></div>
<div style="left:729px;top:446.6px;width:5px;height:5px;border-radius:50%;background:#cc2d82;"></div>
<div style="top:443.7px;font-size:8.6px;line-height:10.8px;color:#2d2d2d;left:751.3px;letter-spacing:0.16px;">30.May.2024, 8:32pm</div>
<div style="top:443.7px;font-size:8.6px;line-height:10.8px;color:#2d2d2d;right:1106.4px;">2</div>
<svg style="left:912.3px;top:443.2px;" width="3" height="10.8" viewBox="0 0 3 10.8"><circle cx="1.5" cy="1.2" r="0.95" fill="#1b5b95"/><circle cx="1.5" cy="5.4" r="0.95" fill="#1b5b95"/><circle cx="1.5" cy="9.6" r="0.95" fill="#1b5b95"/></svg>
<div style="left:555.6px;top:469.6px;width:11px;height:11px;border:1.25px solid #5a90bb;border-radius:2.4px;background:#e4eaf1;"></div>
<div style="top:469.6px;font-size:8.65px;line-height:10.8px;color:#1b5b95;left:581px;"><u>me &nbsp;<svg class="il" width="7.5" height="7.5" viewBox="0 0 10 10"><path d="M1,5 H8.3 M5,1.5 L8.6,5 L5,8.5" fill="none" stroke="#0e4a86" stroke-width="1.9" stroke-linecap="round" stroke-linejoin="round"/></svg>&#8201; Eliza44 Yee98, Kate Matter22</u></div>
<div style="top:469.4px;font-size:8.6px;line-height:10.8px;color:#2d2d2d;left:751.3px;letter-spacing:0.16px;">30.May.2024, 4:12pm</div>
<div style="top:469.4px;font-size:8.6px;line-height:10.8px;color:#2d2d2d;right:1106.4px;">1</div>
<svg style="left:912.3px;top:467.6px;" width="3" height="10.8" viewBox="0 0 3 10.8"><circle cx="1.5" cy="1.2" r="0.95" fill="#1b5b95"/><circle cx="1.5" cy="5.4" r="0.95" fill="#1b5b95"/><circle cx="1.5" cy="9.6" r="0.95" fill="#1b5b95"/></svg>
<div style="left:555.6px;top:493.4px;width:11px;height:11px;border:1.25px solid #5a90bb;border-radius:2.4px;background:#e4eaf1;"></div>
<div style="top:493.4px;font-size:8.65px;line-height:10.8px;color:#1b5b95;left:581px;"><u>me &nbsp;<svg class="il" width="7.5" height="7.5" viewBox="0 0 10 10"><path d="M1,5 H8.3 M5,1.5 L8.6,5 L5,8.5" fill="none" stroke="#0e4a86" stroke-width="1.9" stroke-linecap="round" stroke-linejoin="round"/></svg>&#8201; Eliza44 Yee98</u></div>
<div style="top:493.2px;font-size:8.6px;line-height:10.8px;color:#2d2d2d;left:751.3px;letter-spacing:0.16px;">30.May.2024, 4:01pm</div>
<div style="top:493.2px;font-size:8.6px;line-height:10.8px;color:#2d2d2d;right:1106.4px;">3</div>
<svg style="left:912.3px;top:491.9px;" width="3" height="10.8" viewBox="0 0 3 10.8"><circle cx="1.5" cy="1.2" r="0.95" fill="#1b5b95"/><circle cx="1.5" cy="5.4" r="0.95" fill="#1b5b95"/><circle cx="1.5" cy="9.6" r="0.95" fill="#1b5b95"/></svg>
<div style="left:555.6px;top:518.7px;width:11px;height:11px;border:1.25px solid #5a90bb;border-radius:2.4px;background:#e4eaf1;"></div>
<div style="top:518.7px;font-size:8.65px;line-height:10.8px;color:#1b5b95;left:581px;"><u>Terri11 Amplayer &nbsp;<svg class="il" width="7.5" height="7.5" viewBox="0 0 10 10"><path d="M1,5 H8.3 M5,1.5 L8.6,5 L5,8.5" fill="none" stroke="#0e4a86" stroke-width="1.9" stroke-linecap="round" stroke-linejoin="round"/></svg>&nbsp;&nbsp; me</u></div>
<div style="top:518.5px;font-size:8.6px;line-height:10.8px;color:#2d2d2d;left:751.3px;letter-spacing:0.16px;">30.May.2024, 11:53pm</div>
<div style="top:518.5px;font-size:8.6px;line-height:10.8px;color:#2d2d2d;right:1106.4px;">5</div>
<svg style="left:912.3px;top:517.4px;" width="3" height="10.8" viewBox="0 0 3 10.8"><circle cx="1.5" cy="1.2" r="0.95" fill="#1b5b95"/><circle cx="1.5" cy="5.4" r="0.95" fill="#1b5b95"/><circle cx="1.5" cy="9.6" r="0.95" fill="#1b5b95"/></svg>
<div style="left:555.6px;top:544.9px;width:11px;height:11px;border:1.25px solid #5a90bb;border-radius:2.4px;background:#e4eaf1;"></div>
<div style="top:544.9px;font-size:8.65px;line-height:10.8px;color:#1b5b95;left:581px;"><u>Dani32 Batt <svg class="il" width="7.5" height="7.5" viewBox="0 0 10 10"><path d="M1,5 H8.3 M5,1.5 L8.6,5 L5,8.5" fill="none" stroke="#0e4a86" stroke-width="1.9" stroke-linecap="round" stroke-linejoin="round"/></svg>&nbsp;&nbsp;&nbsp; me, Eliza44 Yee98,...</u></div>
<div style="top:544.7px;font-size:8.6px;line-height:10.8px;color:#2d2d2d;left:751.3px;letter-spacing:0.16px;">21.May.2024, 3:09pm</div>
<div style="top:544.7px;font-size:8.6px;line-height:10.8px;color:#2d2d2d;right:1106.4px;">10</div>
<svg style="left:912.3px;top:542.5px;" width="3" height="10.8" viewBox="0 0 3 10.8"><circle cx="1.5" cy="1.2" r="0.95" fill="#1b5b95"/><circle cx="1.5" cy="5.4" r="0.95" fill="#1b5b95"/><circle cx="1.5" cy="9.6" r="0.95" fill="#1b5b95"/></svg>
<svg style="left:521px;top:381.6px;filter:drop-shadow(0 -1px 1px rgba(0,0,0,0.12));" width="15" height="8.4" viewBox="0 0 15 8.4"><path d="M0,8.4 L7.5,0.4 L15,8.4 Z" fill="#f4f4f4"/></svg>
<div style="left:433px;top:389.1px;width:110.8px;height:130px;background:#f4f4f4;box-shadow:0 1px 5px rgba(0,0,0,0.3);"></div>
<svg style="left:521px;top:382.6px;" width="15" height="8.4" viewBox="0 0 15 8.4"><path d="M0,8.4 L7.5,0.4 L15,8.4 Z" fill="#f4f4f4"/></svg>
<div style="top:399.95px;font-size:11.6px;line-height:14.5px;color:#1b5b95;left:443.6px;">Export report</div>
<div style="top:422.15px;font-size:11.6px;line-height:14.5px;color:#1b5b95;left:443.6px;">Send view</div>
<div style="top:444.25px;font-size:11.6px;line-height:14.5px;color:#1b5b95;left:443.6px;">Edit Description</div>
<div style="top:466.75px;font-size:11.6px;line-height:14.5px;color:#1b5b95;left:443.6px;">Open</div>
<div style="left:440.6px;top:489.3px;width:95.6px;height:0.9px;background:#e4e4e4;"></div>
<div style="top:497.15px;font-size:11.6px;line-height:14.5px;color:#1b5b95;left:444.6px;">Delete</div>
<div style="left:414.8px;top:533.2px;width:121px;height:22.1px;background:#10558f;border-radius:11px;"></div>
<div style="top:539.65px;font-size:8.1px;line-height:10.1px;color:#fff;font-weight:700;left:458.6px;">Collapse</div>
<svg style="left:511.6px;top:539.6px;" width="6" height="10.4" viewBox="0 0 6 10.4"><path d="M3,10 V1 M1,3 L3,0.8 L5,3" fill="none" stroke="#fff" stroke-width="1" stroke-linecap="round" stroke-linejoin="round"/></svg>
<div style="left:15.5px;top:116.7px;width:919.9px;height:71.2px;background:#f4f4f4;box-shadow:0 2px 4px rgba(0,0,0,0.22);"></div>
<div style="left:15.5px;top:159.3px;width:919.9px;height:0.8px;background:#d9e6e6;"></div>
<div style="left:871px;top:116.7px;width:1px;height:42.9px;background:#dbe7e7;"></div>
<svg style="left:893.2px;top:131px;" width="19.6" height="14" viewBox="0 0 19.6 14"><path d="M9.8,0.2 V7" stroke="#0e4a86" stroke-width="2.5" fill="none"/><path d="M5.4,6.1 H14.2 L9.8,11 Z" fill="#0e4a86"/><path d="M0.8,9.9 L4,13.2 H15.6 L18.8,9.9" fill="none" stroke="#0e4a86" stroke-width="1.6" stroke-linecap="round" stroke-linejoin="round"/></svg>
<div style="left:36.2px;top:128.6px;width:5.7px;height:5.7px;background:#5fa3a6;"></div>
<div style="top:124.1px;font-size:11.65px;line-height:14.6px;color:#1b5b95;left:45.2px;">Dec 2024</div>
<div style="left:99.6px;top:131.4px;width:8px;height:1.1px;background:#333;"></div>
<div style="top:126.35px;font-size:9.7px;line-height:12.1px;color:#1b5b95;left:109.7px;transform:scaleX(0.86);transform-origin:0 50%;text-shadow:0.35px 0 0 currentColor;">Dec 2023</div>
<svg style="left:149.8px;top:129.6px;" width="5.6" height="4" viewBox="0 0 5.6 4"><path d="M0.6,0.8 L2.8,3.2 L5,0.8" fill="none" stroke="#1b5b95" stroke-width="1.3" stroke-linecap="round" stroke-linejoin="round"/></svg>
<div style="top:140.55px;font-size:8.7px;line-height:10.9px;color:#2b2b2b;left:36px;"><span style="color:#6f6f6f">timeframe</span> <span style="color:#1b5b95">12 <span class="sb">months back</span></span></div>
<div style="top:124.1px;font-size:11.65px;line-height:14.6px;color:#1b5b95;left:176.2px;">All</div>
<svg style="left:229.3px;top:129.55px;" width="5.8" height="4.1" viewBox="0 0 5.8 4.1"><path d="M0.6,0.8 L2.9,3.3 L5.2,0.8" fill="none" stroke="#1b5b95" stroke-width="1.3" stroke-linecap="round" stroke-linejoin="round"/></svg>
<div style="top:140.6px;font-size:8.6px;line-height:10.8px;color:#1b5b95;left:176.2px;">98M&nbsp; <span class="sb">members</span></div>
<div style="top:124.1px;font-size:11.65px;line-height:14.6px;color:#1b5b95;left:258px;">All 4</div>
<svg style="left:315.3px;top:129.55px;" width="5.8" height="4.1" viewBox="0 0 5.8 4.1"><path d="M0.6,0.8 L2.9,3.3 L5.2,0.8" fill="none" stroke="#1b5b95" stroke-width="1.3" stroke-linecap="round" stroke-linejoin="round"/></svg>
<div style="top:140.65px;font-size:8.55px;line-height:10.7px;color:#7a7a7a;left:258px;">lines of business</div>
<div style="top:124.1px;font-size:11.65px;line-height:14.6px;color:#1b5b95;left:351.4px;">All 10</div>
<svg style="left:388.1px;top:129.55px;" width="5.8" height="4.1" viewBox="0 0 5.8 4.1"><path d="M0.6,0.8 L2.9,3.3 L5.2,0.8" fill="none" stroke="#1b5b95" stroke-width="1.3" stroke-linecap="round" stroke-linejoin="round"/></svg>
<div style="top:140.65px;font-size:8.55px;line-height:10.7px;color:#7a7a7a;left:351.4px;">regions</div>
<svg style="left:36px;top:167.5px;" width="10.6" height="12.8" viewBox="0 0 10.6 12.8"><path d="M0.9,0.9 H9.7 L6.6,5.6 V10.3 L5.3,11.7 L4,10.3 V5.6 Z" fill="none" stroke="#2f6ca3" stroke-width="1.2" stroke-linejoin="round"/></svg>
<div style="top:169.85px;font-size:8.85px;line-height:11.1px;color:#606060;left:54px;">filter by</div>
<div style="left:91.5px;top:164px;width:35.4px;height:20px;background:#e8edf2;border-radius:1px;"></div>
<div style="top:169.8px;font-size:8.6px;line-height:10.8px;color:#1b5b95;left:95.1px;">+ <span class="sb">filter</span></div>
<div style="top:169px;font-size:8.6px;line-height:10.8px;color:#1b5b95;left:782.9px;"><u>Explore associated population</u></div>
<div style="left:906.6px;top:160.1px;width:28.8px;height:27.8px;background:#4f86b1;"></div>
<svg style="left:913.4px;top:168.4px;" width="14" height="11" viewBox="0 0 14 11"><path d="M0.8,5.5 H12.8 M8.4,1 L13,5.5 L8.4,10" fill="none" stroke="#fff" stroke-width="1.05" stroke-linecap="round" stroke-linejoin="round"/></svg>
<div style="left:15.5px;top:561.7px;width:919.9px;height:71.2px;background:#f4f4f4;box-shadow:0 2px 4px rgba(0,0,0,0.22);"></div>
<div style="left:15.5px;top:604.3px;width:919.9px;height:0.8px;background:#d9e6e6;"></div>
<div style="left:871px;top:561.7px;width:1px;height:42.9px;background:#dbe7e7;"></div>
<svg style="left:893.2px;top:576px;" width="19.6" height="14" viewBox="0 0 19.6 14"><path d="M9.8,0.2 V7" stroke="#0e4a86" stroke-width="2.5" fill="none"/><path d="M5.4,6.1 H14.2 L9.8,11 Z" fill="#0e4a86"/><path d="M0.8,9.9 L4,13.2 H15.6 L18.8,9.9" fill="none" stroke="#0e4a86" stroke-width="1.6" stroke-linecap="round" stroke-linejoin="round"/></svg>
<div style="left:36.2px;top:573.6px;width:5.7px;height:5.7px;background:#5fa3a6;"></div>
<div style="top:569.1px;font-size:11.65px;line-height:14.6px;color:#1b5b95;left:45.2px;">Dec 2024</div>
<div style="left:99.6px;top:576.4px;width:8px;height:1.1px;background:#333;"></div>
<div style="top:571.35px;font-size:9.7px;line-height:12.1px;color:#1b5b95;left:109.7px;transform:scaleX(0.86);transform-origin:0 50%;text-shadow:0.35px 0 0 currentColor;">Dec 2024</div>
<svg style="left:149.8px;top:574.6px;" width="5.6" height="4" viewBox="0 0 5.6 4"><path d="M0.6,0.8 L2.8,3.2 L5,0.8" fill="none" stroke="#1b5b95" stroke-width="1.3" stroke-linecap="round" stroke-linejoin="round"/></svg>
<div style="top:585.55px;font-size:8.7px;line-height:10.9px;color:#2b2b2b;left:36px;"><span style="color:#6f6f6f">timeframe</span> <span style="color:#1b5b95">12 <span class="sb">months back</span></span></div>
<div style="top:569.1px;font-size:11.65px;line-height:14.6px;color:#1b5b95;left:176.2px;">All</div>
<svg style="left:229.3px;top:574.55px;" width="5.8" height="4.1" viewBox="0 0 5.8 4.1"><path d="M0.6,0.8 L2.9,3.3 L5.2,0.8" fill="none" stroke="#1b5b95" stroke-width="1.3" stroke-linecap="round" stroke-linejoin="round"/></svg>
<div style="top:585.6px;font-size:8.6px;line-height:10.8px;color:#1b5b95;left:176.2px;">98M&nbsp; <span class="sb">members</span></div>
<div style="top:569.1px;font-size:11.65px;line-height:14.6px;color:#1b5b95;left:256.5px;">All 4</div>
<svg style="left:313.8px;top:574.55px;" width="5.8" height="4.1" viewBox="0 0 5.8 4.1"><path d="M0.6,0.8 L2.9,3.3 L5.2,0.8" fill="none" stroke="#1b5b95" stroke-width="1.3" stroke-linecap="round" stroke-linejoin="round"/></svg>
<div style="top:585.65px;font-size:8.55px;line-height:10.7px;color:#7a7a7a;left:256.5px;">lines of business</div>
<div style="top:569.1px;font-size:11.65px;line-height:14.6px;color:#1b5b95;left:349.9px;">All 10</div>
<svg style="left:386.6px;top:574.55px;" width="5.8" height="4.1" viewBox="0 0 5.8 4.1"><path d="M0.6,0.8 L2.9,3.3 L5.2,0.8" fill="none" stroke="#1b5b95" stroke-width="1.3" stroke-linecap="round" stroke-linejoin="round"/></svg>
<div style="top:585.65px;font-size:8.55px;line-height:10.7px;color:#7a7a7a;left:349.9px;">regions</div>
<svg style="left:36px;top:612.5px;" width="10.6" height="12.8" viewBox="0 0 10.6 12.8"><path d="M0.9,0.9 H9.7 L6.6,5.6 V10.3 L5.3,11.7 L4,10.3 V5.6 Z" fill="none" stroke="#2f6ca3" stroke-width="1.2" stroke-linejoin="round"/></svg>
<div style="top:614.85px;font-size:8.85px;line-height:11.1px;color:#606060;left:54px;">filter by</div>
<div style="left:87.1px;top:609px;width:35.4px;height:20px;background:#e8edf2;border-radius:1px;"></div>
<div style="top:614.8px;font-size:8.6px;line-height:10.8px;color:#1b5b95;left:90.7px;">+ <span class="sb">filter</span></div>
<div style="top:614px;font-size:8.6px;line-height:10.8px;color:#1b5b95;left:782.9px;"><u>Explore associated population</u></div>
<div style="left:906.6px;top:605.1px;width:28.8px;height:27.8px;background:#4f86b1;"></div>
<svg style="left:913.4px;top:613.4px;" width="14" height="11" viewBox="0 0 14 11"><path d="M0.8,5.5 H12.8 M8.4,1 L13,5.5 L8.4,10" fill="none" stroke="#fff" stroke-width="1.05" stroke-linecap="round" stroke-linejoin="round"/></svg>
<div style="left:25.6px;top:643px;width:899px;height:65.8px;background:#f4f4f4;box-shadow:0 0 3px rgba(0,0,0,0.14);overflow:hidden"></div>
<div style="top:654.85px;font-size:11.1px;line-height:13.9px;color:#0f4f8a;font-weight:700;left:37px;"><u>MEASURES</u></div>
<svg style="left:34.4px;top:679.1px" width="7.4" height="6.6"><defs><pattern id="lh1" width="3" height="3" patternUnits="userSpaceOnUse" patternTransform="rotate(45)"><rect width="3" height="3" fill="#b9dbe2"/><rect width="1.2" height="3" fill="#5f9fb0"/></pattern></defs><rect width="7.4" height="6.6" fill="url(#lh1)"/></svg>
<svg style="left:120.6px;top:679.1px" width="7.4" height="6.6"><rect width="7.4" height="6.6" fill="#8bbccb"/><path d="M0,0 L7.4,6.6 L0,6.6 Z" fill="#5f9fb0"/></svg>
<div style="left:203.8px;top:679.1px;width:7.4px;height:6.6px;background:#bcd3d8;"></div>
<div style="left:298.2px;top:679.1px;width:7.4px;height:6.6px;background:#7fb4c6;"></div>
<div style="top:677.75px;font-size:8.7px;line-height:10.9px;color:#2a2a2a;left:46.4px;">2024 Medicare</div>
<div style="top:689.6px;font-size:8.6px;line-height:10.8px;color:#777;left:46.4px;">81 measures</div>
<div style="top:677.75px;font-size:8.7px;line-height:10.9px;color:#2a2a2a;left:132.6px;">2024 Medicaid</div>
<div style="top:689.6px;font-size:8.6px;line-height:10.8px;color:#777;left:132.6px;">100 measures</div>
<div style="top:677.75px;font-size:8.7px;line-height:10.9px;color:#2a2a2a;left:215.4px;">2024 Commercial</div>
<div style="top:689.6px;font-size:8.6px;line-height:10.8px;color:#777;left:215.4px;">98 measures</div>
<div style="top:677.75px;font-size:8.7px;line-height:10.9px;color:#2a2a2a;left:309.6px;">2024 Marketplace</div>
<div style="top:689.6px;font-size:8.6px;line-height:10.8px;color:#777;left:309.6px;">56 measures</div>
<div style="left:401px;top:682.2px;width:8.4px;height:1.3px;background:#222;"></div>
<div style="top:677.75px;font-size:8.7px;line-height:10.9px;color:#2a2a2a;left:413.4px;">2023</div>
<div style="left:565.4px;top:676.4px;width:43.2px;height:13.6px;background:#d6e7e4;border-radius:1px;"></div>
<div style="top:678.7px;font-size:8.5px;line-height:10.6px;color:#6f6f6f;left:567.6px;">Rate</div>
<div style="left:612px;top:676.4px;width:50.6px;height:13.6px;background:#d6e7e4;border-radius:1px;"></div>
<div style="top:678.7px;font-size:8.5px;line-height:10.6px;color:#6f6f6f;left:614.2px;">Numer.</div>
<div style="left:666px;top:676.4px;width:49.6px;height:13.6px;background:#d6e7e4;border-radius:1px;"></div>
<div style="top:678.7px;font-size:8.5px;line-height:10.6px;color:#6f6f6f;left:668.2px;">Denom.</div>
<div style="left:719px;top:676.4px;width:93px;height:13.6px;background:#d6e7e4;border-radius:1px;"></div>
<div style="top:678.7px;font-size:8.5px;line-height:10.6px;color:#6f6f6f;left:721.2px;">Plan p50 progress</div>
<div style="left:815.4px;top:676.4px;width:96px;height:13.6px;background:#d6e7e4;border-radius:1px;"></div>
<div style="top:678.7px;font-size:8.5px;line-height:10.6px;color:#6f6f6f;left:817.6px;">Provider p50 progress</div>
<div style="left:894px;top:651px;width:22.6px;height:21.6px;border:1px solid #7ba8cc;border-radius:2px;background:#f7f7f7;"></div>
<svg style="left:898.8px;top:656.8px;" width="13.33" height="9.52" viewBox="0 0 19.6 14"><path d="M9.8,0.2 V7" stroke="#0e4a86" stroke-width="2.5" fill="none"/><path d="M5.4,6.1 H14.2 L9.8,11 Z" fill="#0e4a86"/><path d="M0.8,9.9 L4,13.2 H15.6 L18.8,9.9" fill="none" stroke="#0e4a86" stroke-width="1.6" stroke-linecap="round" stroke-linejoin="round"/></svg>
<div style="left:1075.4px;top:46.6px;width:918.4px;height:592.2px;background:#e6eded;box-shadow:0 3px 12px rgba(0,0,0,0.24),0 0 6px rgba(0,0,0,0.1);"></div>
<div style="left:1074.7px;top:46.8px;width:919.1px;height:29.8px;background:#e9e9e9;"></div>
<div style="left:1166px;top:53.3px;width:1px;height:16.1px;background:#d9d9d9;"></div>
<div style="top:54.85px;font-size:11.6px;line-height:14.5px;color:#1b5b95;left:1183.1px;">Population Insights</div>
<svg style="left:1285.3px;top:60.7px;" width="6" height="4.2" viewBox="0 0 6 4.2"><path d="M0.6,0.8 L3,3.4 L5.4,0.8" fill="none" stroke="#1b5b95" stroke-width="1.3" stroke-linecap="round" stroke-linejoin="round"/></svg>
<svg style="left:1647.4px;top:54.2px;" width="10" height="14.4" viewBox="0 0 10 14.4"><path d="M1.4,3.6 C1.6,1.8 3,0.9 4.9,0.9 C7,0.9 8.6,2.1 8.6,4 C8.6,6.6 5,6.5 5,9.9" fill="none" stroke="#0e4a86" stroke-width="1.9" stroke-linecap="round"/><circle cx="5" cy="13" r="1.25" fill="#0e4a86"/></svg>
<svg style="left:1683.2px;top:50.6px;" width="20" height="20" viewBox="0 0 20 20"><path d="M6.6,4.8 C3.9,4.8 2.8,6.9 2.8,9.2 V10.8 C2.8,12.6 1.5,13.9 0.3,15 C0,15.4 0.2,15.8 0.7,15.8 H12.5 C13,15.8 13.2,15.4 12.9,15 C11.7,13.9 10.4,12.6 10.4,10.8 V9.2 C10.4,6.9 9.3,4.8 6.6,4.8 Z" fill="#0e4a86"/><path d="M4.6,16.4 a2.1,2.1 0 0 0 4,0 Z" fill="#0e4a86"/><circle cx="12.5" cy="5.3" r="5.9" fill="#f3eef1"/><circle cx="12.5" cy="5.3" r="5.2" fill="#cc2d82"/><text x="12.5" y="8" font-size="7.4" font-weight="700" fill="#fff" text-anchor="middle" font-family="Liberation Sans,sans-serif">4</text></svg>
<svg style="left:1722.8px;top:55.6px;" width="18" height="14" viewBox="0 0 18 14"><path d="M15.6,1.6 H17 V13.2 H2.4 V12" fill="none" stroke="#0e4a86" stroke-width="1.2"/><rect x="0" y="0.2" width="15.1" height="11.5" fill="#0e4a86"/><rect x="2.1" y="6.2" width="2" height="3.8" fill="#fff"/><rect x="6.4" y="4.4" width="2.1" height="5.6" fill="#fff"/><rect x="10.8" y="2" width="2.1" height="8" fill="#fff"/><rect x="1.2" y="10.7" width="12.8" height="0.5" fill="#7fa3c6"/></svg>
<svg style="left:1724.4px;top:71.6px;" width="12.4" height="5.2" viewBox="0 0 12.4 5.2"><path d="M0,5.2 L6.2,0 L12.4,5.2 Z" fill="#dde4ec"/></svg>
<div style="left:1765.4px;top:46.8px;width:1px;height:29.8px;background:#dcdcdc;"></div>
<div style="top:54.15px;font-size:11.6px;line-height:14.5px;color:#1b5b95;left:1776.7px;">United - Payer</div>
<svg style="left:1856.9px;top:60.05px;" width="6.2" height="4.3" viewBox="0 0 6.2 4.3"><path d="M0.6,0.8 L3.1,3.5 L5.6,0.8" fill="none" stroke="#1b5b95" stroke-width="1.3" stroke-linecap="round" stroke-linejoin="round"/></svg>
<div style="left:1871.4px;top:46.8px;width:1px;height:29.8px;background:#dcdcdc;"></div>
<div style="top:54.15px;font-size:11.6px;line-height:14.5px;color:#1b5b95;left:1883.6px;">Jules67 Daye</div>
<svg style="left:1966.3px;top:60.05px;" width="6.2" height="4.3" viewBox="0 0 6.2 4.3"><path d="M0.6,0.8 L3.1,3.5 L5.6,0.8" fill="none" stroke="#1b5b95" stroke-width="1.3" stroke-linecap="round" stroke-linejoin="round"/></svg>
<div style="left:1074.7px;top:76.6px;width:919.3px;height:73.8px;background:#dde4ec;"></div>
<div style="top:82.75px;font-size:8.7px;line-height:10.9px;color:#1d1d1d;font-weight:700;left:1094.5px;">TOP 5 SAVED VIEWS</div>
<div style="top:83.05px;font-size:8.55px;line-height:10.7px;color:#1b5b95;left:1514.9px;"><u>manage saved views</u></div>
<div style="top:82.9px;font-size:8.5px;line-height:10.6px;color:#1d1d1d;font-weight:700;left:1608.7px;">RECEIVED VIEWS</div>
<div style="top:82.8px;font-size:8.6px;line-height:10.8px;color:#cc2d82;left:1686.4px;">(2 unseen)</div>
<div style="top:83.05px;font-size:8.55px;line-height:10.7px;color:#1b5b95;left:1785.7px;"><u>see all sent views</u></div>
<div style="left:1601.2px;top:86.9px;width:1px;height:53.9px;background:#c3cfdb;"></div>
<div style="left:1095.8px;top:97px;width:97px;height:43px;border:1px solid #86accd;background:#e1e8ef;border-radius:1.5px;overflow:hidden;">
<div style="left:5.2px;top:4.35px;font-size:8.6px;line-height:11.5px;color:#1b5b95;">Low-performing</div>
<div style="left:5.2px;top:15.85px;font-size:8.6px;line-height:11.5px;color:#1b5b95;">programs '24</div>
<div style="left:5.2px;top:27.35px;font-size:8.6px;line-height:11.5px;color:#1b5b95;">388 <span style="color:#8fb0c9;font-style:italic;">members</span></div>
</div>
<div style="left:1196.46px;top:97px;width:97px;height:43px;border:1px solid #86accd;background:#e1e8ef;border-radius:1.5px;overflow:hidden;">
<div style="left:5.2px;top:4.35px;font-size:8.6px;line-height:11.5px;color:#1b5b95;">May 2024 emerging</div>
<div style="left:5.2px;top:15.85px;font-size:8.6px;line-height:11.5px;color:#1b5b95;">high risk</div>
<div style="left:5.2px;top:27.35px;font-size:8.6px;line-height:11.5px;color:#1b5b95;">3,291 <span style="color:#8fb0c9;font-style:italic;">members</span></div>
</div>
<div style="left:1297.12px;top:97px;width:97px;height:43px;border:1px solid #86accd;background:#e1e8ef;border-radius:1.5px;overflow:hidden;">
<div style="left:5.2px;top:4.35px;font-size:8.6px;line-height:11.5px;color:#1b5b95;">Diabetes program</div>
<div style="left:5.2px;top:15.85px;font-size:8.6px;line-height:11.5px;color:#1b5b95;">efficacy 2024</div>
<div style="left:5.2px;top:27.35px;font-size:8.6px;line-height:11.5px;color:#1b5b95;">871 &nbsp; <span style="color:#8fb0c9;font-style:italic;">members</span></div>
</div>
<div style="left:1397.78px;top:97px;width:97px;height:43px;border:1px solid #86accd;background:#e1e8ef;border-radius:1.5px;overflow:hidden;">
<div style="left:7.6px;top:10.1px;font-size:8.6px;line-height:11.5px;color:#1b5b95;">Emerging high cost</div>
<div style="left:7.6px;top:21.6px;font-size:8.6px;line-height:11.5px;color:#1b5b95;">1,789 <span style="color:#8fb0c9;font-style:italic;">members</span></div>
</div>
<div style="left:1498.44px;top:97px;width:97px;height:43px;border:1px solid #86accd;background:#e1e8ef;border-radius:1.5px;overflow:hidden;">
<div style="left:5.2px;top:4.35px;font-size:8.6px;line-height:11.5px;color:#1b5b95;">Q1 2024 outreach</div>
<div style="left:5.2px;top:15.85px;font-size:8.6px;line-height:11.5px;color:#1b5b95;">targets</div>
<div style="left:5.2px;top:27.35px;font-size:8.6px;line-height:11.5px;color:#1b5b95;">13,275 <span style="color:#8fb0c9;font-style:italic;">members</span></div>
</div>
<div style="left:1607.5px;top:97px;width:98.8px;height:43px;border:1px solid #10558f;background:#10558f;border-radius:1.5px;overflow:hidden;">
<div style="left:7.6px;top:10.1px;font-size:8.6px;line-height:11.5px;color:#fff;"><b>Eliza44 Yee98 &nbsp;<svg class="il" width="7.5" height="7.5" viewBox="0 0 10 10"><path d="M1,5 H8.3 M5,1.5 L8.6,5 L5,8.5" fill="none" stroke="#fff" stroke-width="1.9" stroke-linecap="round" stroke-linejoin="round"/></svg>&nbsp; me</b></div>
<div style="left:7.6px;top:21.6px;font-size:8.6px;line-height:11.5px;color:#fff;"><span style="color:#c9dbea">Today, 9:00 am</span></div>
</div>
<div style="left:1711.7px;top:97px;width:98.8px;height:43px;border:1px solid #86accd;background:#e1e8ef;border-radius:1.5px;overflow:hidden;">
<div style="left:7.6px;top:10.1px;font-size:8.6px;line-height:11.5px;color:#1b5b95;">Kate Matter22 <svg class="il" width="7.5" height="7.5" viewBox="0 0 10 10"><path d="M1,5 H8.3 M5,1.5 L8.6,5 L5,8.5" fill="none" stroke="#0e4a86" stroke-width="1.9" stroke-linecap="round" stroke-linejoin="round"/></svg>&nbsp;&nbsp; me</div>
<div style="left:7.6px;top:21.6px;font-size:8.6px;line-height:11.5px;color:#1b5b95;">Yesterday, 5:34pm</div>
</div>
<div style="left:1715px;top:100.1px;width:4.6px;height:4.6px;border-radius:50%;background:#cc2d82;"></div>
<div style="left:1815.7px;top:97px;width:43px;height:43px;border:1px solid #86accd;background:#e1e8ef;border-radius:1.5px;overflow:hidden;border-right:none;border-radius:1.5px 0 0 1.5px;">
<div style="left:7.6px;top:10.1px;font-size:8.6px;line-height:11.5px;color:#1b5b95;">Evelyn61</div>
<div style="left:7.6px;top:21.6px;font-size:8.6px;line-height:11.5px;color:#1b5b95;">2.Jun.2017</div>
</div>
<div style="left:1819px;top:100.1px;width:4.6px;height:4.6px;border-radius:50%;background:#cc2d82;"></div>
<div style="left:1858.2px;top:86.9px;width:135.2px;height:53.7px;background:#dde4ec;"></div>
<div style="left:1854.8px;top:86.9px;width:3.8px;height:53.7px;background:linear-gradient(90deg,rgba(70,90,120,0),rgba(70,90,120,0.32));"></div>
<svg style="left:1869.5px;top:95px;" width="20.6" height="14.6" viewBox="0 0 20.6 14.6"><rect x="0.65" y="1.3" width="15.4" height="12.6" rx="1.6" fill="none" stroke="#3f78ac" stroke-width="1.25"/><circle cx="4.9" cy="9.9" r="1.55" fill="none" stroke="#3f78ac" stroke-width="1.15"/><rect x="7.8" y="6.2" width="2.7" height="5.6" rx="1.35" fill="none" stroke="#3f78ac" stroke-width="1.15"/><rect x="11.7" y="6.2" width="2.7" height="5.6" rx="1.35" fill="none" stroke="#3f78ac" stroke-width="1.15"/><circle cx="14.8" cy="4.5" r="5.5" fill="#dde4ec"/><circle cx="14.8" cy="4.5" r="4.6" fill="#0e4a86"/><path d="M14.8,1.9 V7.1 M12.2,4.5 H17.4" stroke="#dde4ec" stroke-width="1.8"/></svg>
<div style="top:113.2px;font-size:8.6px;line-height:10.8px;color:#1b5b95;left:1869.9px;"><span class="sb">Save this</span></div>
<div style="top:123.4px;font-size:8.6px;line-height:10.8px;color:#1b5b95;left:1869.9px;"><span class="sb">view</span></div>
<div style="left:1920.4px;top:86.9px;width:1px;height:53.7px;background:#c9d4df;"></div>
<svg style="left:1934px;top:95px;" width="20.6" height="14.6" viewBox="0 0 20.6 14.6"><rect x="0.65" y="1.3" width="15.4" height="12.6" rx="1.6" fill="none" stroke="#3f78ac" stroke-width="1.25"/><circle cx="4.9" cy="9.9" r="1.55" fill="none" stroke="#3f78ac" stroke-width="1.15"/><rect x="7.8" y="6.2" width="2.7" height="5.6" rx="1.35" fill="none" stroke="#3f78ac" stroke-width="1.15"/><rect x="11.7" y="6.2" width="2.7" height="5.6" rx="1.35" fill="none" stroke="#3f78ac" stroke-width="1.15"/><circle cx="14.8" cy="4.5" r="5.5" fill="#dde4ec"/><circle cx="14.8" cy="4.5" r="4" fill="#dde4ec" stroke="#0e4a86" stroke-width="1.35"/><path d="M12.4,4.5 H16.6 M14.9,2.5 L17,4.5 L14.9,6.5" fill="none" stroke="#0e4a86" stroke-width="1.3" stroke-linecap="round" stroke-linejoin="round"/></svg>
<div style="top:113.2px;font-size:8.6px;line-height:10.8px;color:#1b5b95;left:1934.7px;"><span class="sb">Send this</span></div>
<div style="top:123.4px;font-size:8.6px;line-height:10.8px;color:#1b5b95;left:1934.7px;"><span class="sb">view</span></div>
<div style="left:1075.4px;top:152px;width:918.4px;height:486.5px;overflow:hidden;background:#e6eded">
<div style="left:-1075.4px;top:-152px;width:2000px;height:746px">
<div style="left:1085.8px;top:160px;width:898.2px;height:141.1px;background:#f4f4f4;box-shadow:0 1px 3px rgba(0,0,0,0.16);"></div>
<div style="left:1106px;top:227.6px;width:417px;height:0.8px;background:#dfe3e3;"></div>
<div style="left:1106px;top:247.2px;width:417px;height:0.8px;background:#dfe3e3;"></div>
<div style="left:1106px;top:266.4px;width:417px;height:0.8px;background:#dfe3e3;"></div>
<div style="top:222.6px;font-size:8.6px;line-height:10.8px;color:#2d2d2d;right:896.4px;">10</div>
<div style="top:262px;font-size:8.6px;line-height:10.8px;color:#2d2d2d;right:896.2px;">0</div>
<svg width="0" height="0" style="left:0;top:0"><defs><pattern id="p1" width="3.6" height="3.6" patternUnits="userSpaceOnUse" patternTransform="rotate(45)"><rect width="3.6" height="3.6" fill="#b9dae1"/><rect width="1" height="3.6" fill="#6aa3b3"/></pattern><pattern id="p2" width="4.8" height="4.8" patternUnits="userSpaceOnUse" patternTransform="rotate(-42)"><rect width="4.8" height="4.8" fill="#8fc0ce"/><rect width="1.7" height="4.8" fill="#6ea8b9"/></pattern><pattern id="p3" width="2" height="2" patternUnits="userSpaceOnUse"><rect width="2" height="2" fill="#c3d9de"/></pattern></defs></svg>
<div style="left:1112.7px;top:200px;width:80px;height:66.8px;background:#e8eded;"></div>
<svg style="left:1112.7px;top:200px;" width="77.4" height="66.8" viewBox="0 0 77.4 66.8"><rect x="0" y="0" width="19.35" height="66.8" fill="url(#p1)"/><rect x="19.35" y="40" width="19.35" height="26.8" fill="url(#p2)"/><rect x="38.7" y="30.5" width="19.35" height="36.3" fill="url(#p3)"/><rect x="58.05" y="52" width="19.35" height="14.8" fill="#8bbccb"/></svg>
<div style="left:1117.9px;top:254.7px;width:8.8px;height:1.2px;background:#333;"></div>
<div style="left:1137.25px;top:235.4px;width:8.8px;height:1.2px;background:#333;"></div>
<div style="left:1156.6px;top:243.4px;width:8.8px;height:1.2px;background:#333;"></div>
<div style="left:1175.95px;top:250.3px;width:8.8px;height:1.2px;background:#333;"></div>
<div style="left:1196.2px;top:200px;width:80px;height:66.8px;background:#e8eded;"></div>
<svg style="left:1196.2px;top:200px;" width="77.4" height="66.8" viewBox="0 0 77.4 66.8"><rect x="0" y="0" width="19.35" height="66.8" fill="url(#p1)"/><rect x="19.35" y="0" width="19.35" height="66.8" fill="url(#p2)"/><rect x="38.7" y="0" width="19.35" height="66.8" fill="url(#p3)"/><rect x="58.05" y="0" width="19.35" height="66.8" fill="#8bbccb"/></svg>
<div style="left:1278.3px;top:200px;width:80px;height:66.8px;background:#e8eded;"></div>
<svg style="left:1278.3px;top:200px;" width="77.4" height="66.8" viewBox="0 0 77.4 66.8"><rect x="0" y="0" width="19.35" height="66.8" fill="url(#p1)"/><rect x="19.35" y="0" width="19.35" height="66.8" fill="url(#p2)"/><rect x="38.7" y="0" width="19.35" height="66.8" fill="url(#p3)"/><rect x="58.05" y="0" width="19.35" height="66.8" fill="#8bbccb"/></svg>
<div style="left:1360.4px;top:200px;width:80px;height:66.8px;background:#e8eded;"></div>
<svg style="left:1360.4px;top:200px;" width="77.4" height="66.8" viewBox="0 0 77.4 66.8"><rect x="0" y="0" width="19.35" height="66.8" fill="url(#p1)"/><rect x="19.35" y="0" width="19.35" height="66.8" fill="url(#p2)"/><rect x="38.7" y="0" width="19.35" height="66.8" fill="url(#p3)"/><rect x="58.05" y="0" width="19.35" height="66.8" fill="#8bbccb"/></svg>
<div style="left:1423.65px;top:223.6px;width:8.8px;height:1.2px;background:#333;"></div>
<div style="left:1442.9px;top:200px;width:80px;height:66.8px;background:#e8eded;"></div>
<svg style="left:1442.9px;top:200px;" width="77.4" height="66.8" viewBox="0 0 77.4 66.8"><rect x="0" y="28.5" width="19.35" height="38.3" fill="url(#p1)"/><rect x="19.35" y="28" width="19.35" height="38.8" fill="url(#p2)"/><rect x="38.7" y="57.3" width="19.35" height="9.5" fill="url(#p3)"/><rect x="58.05" y="0" width="19.35" height="66.8" fill="#8bbccb"/></svg>
<div style="left:1506.15px;top:252.7px;width:8.8px;height:1.2px;background:#333;"></div>
<div style="left:1110.9px;top:270.4px;width:81.6px;height:7.9px;background:#d6e7e4;border-radius:4px;"></div>
<div style="top:268.75px;font-size:9.3px;line-height:11.6px;color:#5e6b6b;left:1110.9px;width:81.6px;text-align:center;">0-24%</div>
<div style="left:1193.3px;top:270.4px;width:81.6px;height:7.9px;background:#d6e7e4;border-radius:4px;"></div>
<div style="top:268.75px;font-size:9.3px;line-height:11.6px;color:#5e6b6b;left:1193.3px;width:81.6px;text-align:center;">25-49%</div>
<div style="left:1275.7px;top:270.4px;width:81.6px;height:7.9px;background:#d6e7e4;border-radius:4px;"></div>
<div style="top:268.75px;font-size:9.3px;line-height:11.6px;color:#5e6b6b;left:1275.7px;width:81.6px;text-align:center;">50-74%</div>
<div style="left:1358.1px;top:270.4px;width:81.6px;height:7.9px;background:#d6e7e4;border-radius:4px;"></div>
<div style="top:268.75px;font-size:9.3px;line-height:11.6px;color:#5e6b6b;left:1358.1px;width:81.6px;text-align:center;">75-99%</div>
<div style="left:1440.5px;top:270.4px;width:81.6px;height:7.9px;background:#d6e7e4;border-radius:4px;"></div>
<div style="top:268.75px;font-size:9.3px;line-height:11.6px;color:#5e6b6b;left:1440.5px;width:81.6px;text-align:center;">100+%</div>
<div style="top:282.1px;font-size:8.8px;line-height:11px;color:#666;left:1110.9px;">% progress to 2017 national p50</div>
<div style="top:282.2px;font-size:8.6px;line-height:10.8px;color:#666;right:477.4px;">click to select one bucket, click &amp; drag to select multiple</div>
<div style="left:1539.7px;top:190px;width:444.3px;height:48.8px;background:#ebecee;"></div>
<div style="top:214.75px;font-size:11.6px;line-height:14.5px;color:#1b5b95;left:1555.2px;"><u>AAB</u></div>
<div style="top:207px;font-size:23px;line-height:28.8px;color:#161616;left:1628px;letter-spacing:-0.45px;-webkit-text-stroke:0.32px #ebecee;">35</div>
<div style="top:217px;font-size:8.3px;line-height:10.4px;color:#333;left:1655px;"><span class="sb">%</span></div>
<div style="top:214.4px;font-size:11.8px;line-height:14.8px;color:#222;left:1674.5px;">12,106</div>
<div style="top:214.4px;font-size:11.8px;line-height:14.8px;color:#222;left:1732.9px;">34,593</div>
<div style="top:207px;font-size:23px;line-height:28.8px;color:#161616;left:1781.6px;letter-spacing:-0.45px;-webkit-text-stroke:0.32px #ebecee;">30</div>
<div style="top:217px;font-size:8.3px;line-height:10.4px;color:#333;left:1807.9px;"><span class="sb">%</span></div>
<div style="top:220.6px;font-size:8.6px;line-height:10.8px;color:#777;left:1822.6px;">met p50</div>
<div style="top:207px;font-size:23px;line-height:28.8px;color:#161616;left:1877.1px;letter-spacing:-0.45px;-webkit-text-stroke:0.32px #ebecee;">22</div>
<div style="top:217px;font-size:8.3px;line-height:10.4px;color:#333;left:1904.1px;"><span class="sb">%</span></div>
<div style="top:220.6px;font-size:8.6px;line-height:10.8px;color:#777;left:1919.2px;">met p50</div>
<div style="left:1674.5px;top:233.95px;width:20.9px;height:4.1px;border:1px solid #8dbfcb;border-radius:1.5px;background:#fbfdfd;"></div>
<div style="left:1674.5px;top:233.95px;width:8.8px;height:4.1px;background:#6aaaba;border-radius:1px 0 0 1px;"></div>
<div style="left:1781.8px;top:233.95px;width:90.5px;height:4.1px;border:1px solid #8dbfcb;border-radius:1.5px;background:#fbfdfd;"></div>
<div style="left:1781.8px;top:233.95px;width:27.7px;height:4.1px;background:#6aaaba;border-radius:1px 0 0 1px;"></div>
<div style="left:1877.3px;top:233.95px;width:94.6px;height:4.1px;border:1px solid #8dbfcb;border-radius:1.5px;background:#fbfdfd;"></div>
<div style="left:1877.3px;top:233.95px;width:20.1px;height:4.1px;background:#6aaaba;border-radius:1px 0 0 1px;"></div>
<div style="top:251.05px;font-size:11.6px;line-height:14.5px;color:#1b5b95;left:1555.2px;"><u>ADD</u></div>
<div style="top:243.6px;font-size:23px;line-height:28.8px;color:#161616;left:1628px;letter-spacing:-0.45px;-webkit-text-stroke:0.32px #f4f4f4;">38</div>
<div style="top:253.6px;font-size:8.3px;line-height:10.4px;color:#333;left:1655px;"><span class="sb">%</span></div>
<div style="top:251px;font-size:11.8px;line-height:14.8px;color:#222;left:1674.5px;">3,959</div>
<div style="top:251px;font-size:11.8px;line-height:14.8px;color:#222;left:1732.9px;">10,390</div>
<div style="top:243.6px;font-size:23px;line-height:28.8px;color:#161616;left:1781.6px;letter-spacing:-0.45px;-webkit-text-stroke:0.32px #f4f4f4;">54</div>
<div style="top:253.6px;font-size:8.3px;line-height:10.4px;color:#333;left:1807.9px;"><span class="sb">%</span></div>
<div style="top:247.6px;font-size:8.6px;line-height:10.8px;color:#666;left:1822.6px;"><b>50</b> / 291</div>
<div style="top:257px;font-size:8.6px;line-height:10.8px;color:#777;left:1822.6px;">met p50</div>
<div style="top:243.6px;font-size:23px;line-height:28.8px;color:#161616;left:1877.1px;letter-spacing:-0.45px;-webkit-text-stroke:0.32px #f4f4f4;">65</div>
<div style="top:253.6px;font-size:8.3px;line-height:10.4px;color:#333;left:1904.1px;"><span class="sb">%</span></div>
<div style="top:247.6px;font-size:8.6px;line-height:10.8px;color:#666;left:1919.2px;"><b>1,391</b> / 2,091</div>
<div style="top:257px;font-size:8.6px;line-height:10.8px;color:#777;left:1919.2px;">met p50</div>
<div style="left:1674.5px;top:270.45px;width:10px;height:4.1px;border:1px solid #8dbfcb;border-radius:1.5px;background:#fbfdfd;"></div>
<div style="left:1674.5px;top:270.45px;width:3.5px;height:4.1px;background:#6aaaba;border-radius:1px 0 0 1px;"></div>
<div style="left:1781.8px;top:270.45px;width:90.5px;height:4.1px;border:1px solid #8dbfcb;border-radius:1.5px;background:#fbfdfd;"></div>
<div style="left:1781.8px;top:270.45px;width:33.2px;height:4.1px;background:#6aaaba;border-radius:1px 0 0 1px;"></div>
<div style="left:1877.3px;top:270.45px;width:94.6px;height:4.1px;border:1px solid #8dbfcb;border-radius:1.5px;background:#fbfdfd;"></div>
<div style="left:1877.3px;top:270.45px;width:18.5px;height:4.1px;background:#6aaaba;border-radius:1px 0 0 1px;"></div>
<div style="left:1555.2px;top:276px;width:417.8px;height:0.9px;background:#e4e6e6;"></div>
<div style="top:282.75px;font-size:8.75px;line-height:10.9px;color:#1b5b95;left:1554.8px;"><u>view all 113 standard measures</u></div>
<div style="left:1085.8px;top:311.8px;width:443.8px;height:348.2px;background:#f4f4f4;box-shadow:0 1px 3px rgba(0,0,0,0.16);"></div>
<div style="top:321.9px;font-size:11.2px;line-height:14px;color:#0f4f8a;font-weight:700;left:1096.2px;"><u>PLANS</u></div>
<div style="top:325.9px;font-size:8.6px;line-height:10.8px;color:#6f6f6f;left:1143.1px;">show by</div>
<div style="top:325.95px;font-size:8.55px;line-height:10.7px;color:#1b5b95;left:1182.1px;">prevention score</div>
<svg style="left:1255.3px;top:329.35px;" width="5.8" height="4.1" viewBox="0 0 5.8 4.1"><path d="M0.6,0.8 L2.9,3.3 L5.2,0.8" fill="none" stroke="#1b5b95" stroke-width="1.3" stroke-linecap="round" stroke-linejoin="round"/></svg>
<div style="left:1180.1px;top:337px;width:84.7px;height:1px;background:#3f7fb3;"></div>
<div style="left:1498.8px;top:319.6px;width:22.6px;height:21.2px;border:1px solid #7ba8cc;border-radius:2px;background:#f7f7f7;"></div>
<svg style="left:1503.6px;top:325.2px;" width="13.33" height="9.52" viewBox="0 0 19.6 14"><path d="M9.8,0.2 V7" stroke="#0e4a86" stroke-width="2.5" fill="none"/><path d="M5.4,6.1 H14.2 L9.8,11 Z" fill="#0e4a86"/><path d="M0.8,9.9 L4,13.2 H15.6 L18.8,9.9" fill="none" stroke="#0e4a86" stroke-width="1.6" stroke-linecap="round" stroke-linejoin="round"/></svg>
<div style="left:1096.2px;top:350px;width:6.7px;height:6.6px;background:#a4cdd6;"></div>
<div style="top:348.45px;font-size:8.7px;line-height:10.9px;color:#222;left:1107.3px;">2024 <span style="color:#777">(240 plans)</span></div>
<div style="left:1183.1px;top:352.6px;width:9.7px;height:1.3px;background:#333;"></div>
<div style="top:348.45px;font-size:8.7px;line-height:10.9px;color:#222;left:1195.4px;">2023 <span style="color:#777">(213 plans)</span></div>
<div style="top:368.6px;font-size:8.6px;line-height:10.8px;color:#2d2d2d;left:1096.2px;">30 plans</div>
<div style="left:1132.8px;top:373.6px;width:389.2px;height:0.8px;background:#dfe1e1;"></div>
<div style="top:395.3px;font-size:8.6px;line-height:10.8px;color:#2d2d2d;left:1097.2px;">15</div>
<div style="left:1110px;top:400.3px;width:412px;height:0.8px;background:#dfe1e1;"></div>
<div style="top:422px;font-size:8.6px;line-height:10.8px;color:#2d2d2d;left:1101.2px;">0</div>
<div style="left:1110px;top:425.4px;width:412px;height:0.8px;background:#dcdfdf;"></div>
<div style="left:1116.3px;top:395.3px;width:33.3px;height:30.5px;background:#a4cdd6;"></div>
<div style="left:1121.3px;top:387px;width:23.4px;height:1.2px;background:#3a3a3a;"></div>
<div style="left:1153.23px;top:407.2px;width:33.3px;height:18.6px;background:#a4cdd6;"></div>
<div style="left:1158.23px;top:407px;width:23.4px;height:1.2px;background:#3a3a3a;"></div>
<div style="left:1190.16px;top:413.4px;width:33.3px;height:12.4px;background:#a4cdd6;"></div>
<div style="left:1195.16px;top:408.4px;width:23.4px;height:1.2px;background:#3a3a3a;"></div>
<div style="left:1227.09px;top:395.3px;width:33.3px;height:30.5px;background:#a4cdd6;"></div>
<div style="left:1232.09px;top:401.9px;width:23.4px;height:1.2px;background:#3a3a3a;"></div>
<div style="left:1264.02px;top:407.2px;width:33.3px;height:18.6px;background:#a4cdd6;"></div>
<div style="left:1269.02px;top:398.5px;width:23.4px;height:1.2px;background:#3a3a3a;"></div>
<div style="left:1300.95px;top:383px;width:33.3px;height:42.8px;background:#a4cdd6;"></div>
<div style="left:1305.95px;top:396.1px;width:23.4px;height:1.2px;background:#3a3a3a;"></div>
<div style="left:1337.88px;top:413.4px;width:33.3px;height:12.4px;background:#a4cdd6;"></div>
<div style="left:1342.88px;top:408.4px;width:23.4px;height:1.2px;background:#3a3a3a;"></div>
<div style="left:1374.81px;top:400.7px;width:33.3px;height:25.1px;background:#a4cdd6;"></div>
<div style="left:1379.81px;top:394.9px;width:23.4px;height:1.2px;background:#3a3a3a;"></div>
<div style="left:1411.74px;top:417.8px;width:33.3px;height:8px;background:#a4cdd6;"></div>
<div style="left:1416.74px;top:401.1px;width:23.4px;height:1.2px;background:#3a3a3a;"></div>
<div style="left:1448.67px;top:409.4px;width:33.3px;height:16.4px;background:#a4cdd6;"></div>
<div style="left:1453.67px;top:401.7px;width:23.4px;height:1.2px;background:#3a3a3a;"></div>
<div style="left:1490.6px;top:422.3px;width:23.4px;height:1.2px;background:#3a3a3a;"></div>
<div style="left:1114.3px;top:430.5px;width:36.2px;height:8px;background:#d6e7e4;border-radius:4px;"></div>
<div style="top:428.9px;font-size:9.3px;line-height:11.6px;color:#5e6b6b;left:1114.3px;width:36.2px;text-align:center;">NR</div>
<div style="left:1151.4px;top:430.5px;width:36.2px;height:8px;background:#d6e7e4;border-radius:4px;"></div>
<div style="top:428.9px;font-size:9.3px;line-height:11.6px;color:#5e6b6b;left:1151.4px;width:36.2px;text-align:center;">0.5</div>
<div style="left:1188.5px;top:430.5px;width:36.2px;height:8px;background:#d6e7e4;border-radius:4px;"></div>
<div style="top:428.9px;font-size:9.3px;line-height:11.6px;color:#5e6b6b;left:1188.5px;width:36.2px;text-align:center;">1</div>
<div style="left:1225.6px;top:430.5px;width:36.2px;height:8px;background:#d6e7e4;border-radius:4px;"></div>
<div style="top:428.9px;font-size:9.3px;line-height:11.6px;color:#5e6b6b;left:1225.6px;width:36.2px;text-align:center;">1.5</div>
<div style="left:1262.7px;top:430.5px;width:36.2px;height:8px;background:#d6e7e4;border-radius:4px;"></div>
<div style="top:428.9px;font-size:9.3px;line-height:11.6px;color:#5e6b6b;left:1262.7px;width:36.2px;text-align:center;">2</div>
<div style="left:1299.8px;top:430.5px;width:36.2px;height:8px;background:#d6e7e4;border-radius:4px;"></div>
<div style="top:428.9px;font-size:9.3px;line-height:11.6px;color:#5e6b6b;left:1299.8px;width:36.2px;text-align:center;">2.5</div>
<div style="left:1336.9px;top:430.5px;width:36.2px;height:8px;background:#d6e7e4;border-radius:4px;"></div>
<div style="top:428.9px;font-size:9.3px;line-height:11.6px;color:#5e6b6b;left:1336.9px;width:36.2px;text-align:center;">3</div>
<div style="left:1374px;top:430.5px;width:36.2px;height:8px;background:#d6e7e4;border-radius:4px;"></div>
<div style="top:428.9px;font-size:9.3px;line-height:11.6px;color:#5e6b6b;left:1374px;width:36.2px;text-align:center;">3.5</div>
<div style="left:1411.1px;top:430.5px;width:36.2px;height:8px;background:#d6e7e4;border-radius:4px;"></div>
<div style="top:428.9px;font-size:9.3px;line-height:11.6px;color:#5e6b6b;left:1411.1px;width:36.2px;text-align:center;">4</div>
<div style="left:1448.2px;top:430.5px;width:36.2px;height:8px;background:#d6e7e4;border-radius:4px;"></div>
<div style="top:428.9px;font-size:9.3px;line-height:11.6px;color:#5e6b6b;left:1448.2px;width:36.2px;text-align:center;">4.5</div>
<div style="left:1485.3px;top:430.5px;width:36.2px;height:8px;background:#d6e7e4;border-radius:4px;"></div>
<div style="top:428.9px;font-size:9.3px;line-height:11.6px;color:#5e6b6b;left:1485.3px;width:36.2px;text-align:center;">5</div>
<div style="top:442.2px;font-size:8.6px;line-height:10.8px;color:#666;left:1113.9px;">NCQA prevention score</div>
<div style="top:442.2px;font-size:8.6px;line-height:10.8px;color:#666;right:478.4px;">click to select one bucket, click &amp; drag to select multiple</div>
<div style="left:1093.2px;top:465.5px;width:431.8px;height:0.8px;background:#e2e4e4;"></div>
<div style="left:1203.9px;top:470.9px;width:48.3px;height:13.5px;background:#d6e7e4;border-radius:1px;"></div>
<div style="top:472px;font-size:8.5px;line-height:10.6px;color:#6f6f6f;left:1206.9px;">Members</div>
<div style="left:1255.8px;top:470.9px;width:49.1px;height:13.5px;background:#d6e7e4;border-radius:1px;"></div>
<div style="top:472px;font-size:8.5px;line-height:10.6px;color:#222;font-weight:700;left:1258.8px;">Compli.</div>
<div style="left:1308.1px;top:470.9px;width:47.7px;height:13.5px;background:#d6e7e4;border-radius:1px;"></div>
<div style="top:472px;font-size:8.5px;line-height:10.6px;color:#6f6f6f;left:1311.1px;">Denom.</div>
<div style="left:1359.2px;top:470.9px;width:81.5px;height:13.5px;background:#d6e7e4;border-radius:1px;"></div>
<div style="top:472px;font-size:8.5px;line-height:10.6px;color:#6f6f6f;left:1362.2px;">Goal progress</div>
<div style="left:1443.5px;top:470.9px;width:39.8px;height:13.5px;background:#d6e7e4;border-radius:1px;"></div>
<div style="top:472px;font-size:8.5px;line-height:10.6px;color:#6f6f6f;left:1446.5px;">Prev.</div>
<div style="left:1486.8px;top:470.9px;width:32.2px;height:13.5px;background:#d6e7e4;border-radius:1px;"></div>
<div style="top:472px;font-size:8.5px;line-height:10.6px;color:#6f6f6f;left:1489.8px;">Treat.</div>
<svg style="left:1294.4px;top:476px;" width="5.4" height="3.6" viewBox="0 0 5.4 3.6"><path d="M0,0 H5.4 L2.7,3.4 Z" fill="#222"/></svg>
<div style="left:1085.8px;top:529.8px;width:443.8px;height:36.2px;background:#ebedee;"></div>
<div style="left:1085.8px;top:604.2px;width:443.8px;height:36.2px;background:#ebedee;"></div>
<div style="top:500.6px;font-size:8.5px;line-height:10.6px;color:#1b5b95;left:1096.2px;"><u>Humana HMO Blue, Inc.</u></div>
<div style="top:512.7px;font-size:8.5px;line-height:10.6px;color:#333;left:1096.2px;">Commercial - HMO/POS</div>
<div style="top:500.1px;font-size:8.6px;line-height:10.8px;color:#2d2d2d;left:1206.9px;">4,019</div>
<div style="top:512.6px;font-size:8.6px;line-height:10.8px;color:#777;left:1206.9px;">3.2% total</div>
<div style="top:502.55px;font-size:12.1px;line-height:15.1px;color:#222;left:1258.8px;">11,994</div>
<div style="top:502.55px;font-size:12.1px;line-height:15.1px;color:#222;left:1311.9px;">20,962</div>
<div style="top:496.5px;font-size:23px;line-height:28.8px;color:#161616;left:1361.6px;letter-spacing:-0.45px;-webkit-text-stroke:0.32px #f4f4f4;">88</div>
<div style="top:506.5px;font-size:8.3px;line-height:10.4px;color:#333;left:1389.6px;"><span class="sb">%</span></div>
<div style="top:500.7px;font-size:8.6px;line-height:10.8px;color:#666;left:1400.6px;"><b>59</b> / 60</div>
<div style="top:510.2px;font-size:8.6px;line-height:10.8px;color:#777;left:1400.6px;">goals met</div>
<div style="left:1361.2px;top:522.25px;width:79.7px;height:4.1px;border:1px solid #8dbfcb;border-radius:1.5px;background:#fbfdfd;"></div>
<div style="left:1361.2px;top:522.25px;width:65px;height:4.1px;background:#6aaaba;border-radius:1px 0 0 1px;"></div>
<div style="left:1258.2px;top:522.25px;width:85.1px;height:4.1px;border:1px solid #8dbfcb;border-radius:1.5px;background:#fbfdfd;"></div>
<div style="left:1258.2px;top:522.25px;width:43.8px;height:4.1px;background:#6aaaba;border-radius:1px 0 0 1px;"></div>
<div style="top:505.45px;font-size:8.4px;line-height:10.5px;color:#333;left:1440px;width:30px;text-align:center;">4.5</div>
<div style="top:505.45px;font-size:8.4px;line-height:10.5px;color:#333;left:1483.2px;width:30px;text-align:center;">4.5</div>
<div style="top:537.5px;font-size:8.5px;line-height:10.6px;color:#1b5b95;left:1096.2px;"><u>Humana Healthcare Net...</u></div>
<div style="top:549.6px;font-size:8.5px;line-height:10.6px;color:#333;left:1096.2px;">Marketplace - HMO</div>
<div style="top:537px;font-size:8.6px;line-height:10.8px;color:#2d2d2d;left:1206.9px;">2,190</div>
<div style="top:549.5px;font-size:8.6px;line-height:10.8px;color:#777;left:1206.9px;">1.8% total</div>
<div style="top:539.45px;font-size:12.1px;line-height:15.1px;color:#222;left:1258.8px;">10,291</div>
<div style="top:539.45px;font-size:12.1px;line-height:15.1px;color:#222;left:1311.9px;">12,611</div>
<div style="top:542.8px;font-size:8.6px;line-height:10.8px;color:#777;left:1361.8px;">no goals set</div>
<div style="left:1258.2px;top:560.35px;width:46.8px;height:4.1px;border:1px solid #8dbfcb;border-radius:1.5px;background:#fbfdfd;"></div>
<div style="left:1258.2px;top:560.35px;width:37.6px;height:4.1px;background:#6aaaba;border-radius:1px 0 0 1px;"></div>
<div style="left:1446.5px;top:540.4px;width:17.1px;height:15.8px;background:#eee0ea;"></div>
<div style="left:1489.8px;top:540.4px;width:17.1px;height:15.8px;background:#ecc9e6;"></div>
<div style="top:542.35px;font-size:8.4px;line-height:10.5px;color:#333;left:1440px;width:30px;text-align:center;">2.5</div>
<div style="top:542.35px;font-size:8.4px;line-height:10.5px;color:#333;left:1483.2px;width:30px;text-align:center;">1.5</div>
<div style="top:574.8px;font-size:8.5px;line-height:10.6px;color:#1b5b95;left:1096.2px;"><u>Humana Health Plan, Inc...</u></div>
<div style="top:586.9px;font-size:8.5px;line-height:10.6px;color:#333;left:1096.2px;">Medicare - HMO</div>
<div style="top:574.3px;font-size:8.6px;line-height:10.8px;color:#2d2d2d;left:1206.9px;">1,291</div>
<div style="top:586.8px;font-size:8.6px;line-height:10.8px;color:#777;left:1206.9px;">3.7% total</div>
<div style="top:576.75px;font-size:12.1px;line-height:15.1px;color:#222;left:1258.8px;">8,612</div>
<div style="top:576.75px;font-size:12.1px;line-height:15.1px;color:#222;left:1311.9px;">15,632</div>
<div style="top:570.7px;font-size:23px;line-height:28.8px;color:#161616;left:1361.6px;letter-spacing:-0.45px;-webkit-text-stroke:0.32px #f4f4f4;">67</div>
<div style="top:580.7px;font-size:8.3px;line-height:10.4px;color:#333;left:1389.6px;"><span class="sb">%</span></div>
<div style="top:574.9px;font-size:8.6px;line-height:10.8px;color:#666;left:1400.6px;"><b>51</b> / 84</div>
<div style="top:584.4px;font-size:8.6px;line-height:10.8px;color:#777;left:1400.6px;">goals met</div>
<div style="left:1361.2px;top:596.45px;width:79.7px;height:4.1px;border:1px solid #8dbfcb;border-radius:1.5px;background:#fbfdfd;"></div>
<div style="left:1361.2px;top:596.45px;width:46.8px;height:4.1px;background:#6aaaba;border-radius:1px 0 0 1px;"></div>
<div style="left:1258.2px;top:596.45px;width:66.8px;height:4.1px;border:1px solid #8dbfcb;border-radius:1.5px;background:#fbfdfd;"></div>
<div style="left:1258.2px;top:596.45px;width:35.8px;height:4.1px;background:#6aaaba;border-radius:1px 0 0 1px;"></div>
<div style="left:1446.5px;top:577.7px;width:17.1px;height:15.8px;background:#efe0ea;"></div>
<div style="top:579.65px;font-size:8.4px;line-height:10.5px;color:#333;left:1440px;width:30px;text-align:center;">NR</div>
<div style="top:579.65px;font-size:8.4px;line-height:10.5px;color:#333;left:1483.2px;width:30px;text-align:center;">4.5</div>
<div style="top:611.9px;font-size:8.5px;line-height:10.6px;color:#1b5b95;left:1096.2px;"><u>Humana of the Midwest</u></div>
<div style="top:624px;font-size:8.5px;line-height:10.6px;color:#333;left:1096.2px;">Medicaid - HMO/POS</div>
<div style="top:611.4px;font-size:8.6px;line-height:10.8px;color:#2d2d2d;left:1206.9px;">510</div>
<div style="top:623.9px;font-size:8.6px;line-height:10.8px;color:#777;left:1206.9px;">2.7% total</div>
<div style="top:613.85px;font-size:12.1px;line-height:15.1px;color:#222;left:1258.8px;">7,227</div>
<div style="top:613.85px;font-size:12.1px;line-height:15.1px;color:#222;left:1311.9px;">10,391</div>
<div style="top:607.8px;font-size:23px;line-height:28.8px;color:#161616;left:1361.6px;letter-spacing:-0.45px;-webkit-text-stroke:0.32px #ebedee;">20</div>
<div style="top:617.8px;font-size:8.3px;line-height:10.4px;color:#333;left:1389.6px;"><span class="sb">%</span></div>
<div style="top:612px;font-size:8.6px;line-height:10.8px;color:#666;left:1400.6px;"><b>23</b> / 60</div>
<div style="top:621.5px;font-size:8.6px;line-height:10.8px;color:#777;left:1400.6px;">goals met</div>
<div style="left:1361.2px;top:633.55px;width:79.7px;height:4.1px;border:1px solid #8dbfcb;border-radius:1.5px;background:#fbfdfd;"></div>
<div style="left:1361.2px;top:633.55px;width:13.8px;height:4.1px;background:#6aaaba;border-radius:1px 0 0 1px;"></div>
<div style="left:1258.2px;top:634.75px;width:37.8px;height:4.1px;border:1px solid #8dbfcb;border-radius:1.5px;background:#fbfdfd;"></div>
<div style="left:1258.2px;top:634.75px;width:30.8px;height:4.1px;background:#6aaaba;border-radius:1px 0 0 1px;"></div>
<div style="top:616.75px;font-size:8.4px;line-height:10.5px;color:#333;left:1440px;width:30px;text-align:center;">4.5</div>
<div style="top:616.75px;font-size:8.4px;line-height:10.5px;color:#333;left:1483.2px;width:30px;text-align:center;">4.5</div>
<div style="left:1096.2px;top:528.9px;width:428.8px;height:0.8px;background:#e9ebeb;"></div>
<div style="left:1096.2px;top:565.6px;width:428.8px;height:0.8px;background:#e9ebeb;"></div>
<div style="left:1540px;top:311.8px;width:444px;height:348.2px;background:#f4f4f4;box-shadow:0 1px 3px rgba(0,0,0,0.16);"></div>
<div style="top:321.85px;font-size:11.3px;line-height:14.1px;color:#0f4f8a;font-weight:700;left:1550.1px;"><u>PROVIDERS</u></div>
<div style="top:325.9px;font-size:8.6px;line-height:10.8px;color:#6f6f6f;left:1627px;">show by</div>
<div style="top:325.95px;font-size:8.55px;line-height:10.7px;color:#1b5b95;left:1665.8px;">members</div>
<svg style="left:1717.7px;top:329.35px;" width="5.8" height="4.1" viewBox="0 0 5.8 4.1"><path d="M0.6,0.8 L2.9,3.3 L5.2,0.8" fill="none" stroke="#1b5b95" stroke-width="1.3" stroke-linecap="round" stroke-linejoin="round"/></svg>
<div style="left:1663.8px;top:337px;width:63.4px;height:1px;background:#3f7fb3;"></div>
<div style="left:1953.2px;top:319.6px;width:22.6px;height:21.2px;border:1px solid #7ba8cc;border-radius:2px;background:#f7f7f7;"></div>
<svg style="left:1958px;top:325.2px;" width="13.33" height="9.52" viewBox="0 0 19.6 14"><path d="M9.8,0.2 V7" stroke="#0e4a86" stroke-width="2.5" fill="none"/><path d="M5.4,6.1 H14.2 L9.8,11 Z" fill="#0e4a86"/><path d="M0.8,9.9 L4,13.2 H15.6 L18.8,9.9" fill="none" stroke="#0e4a86" stroke-width="1.6" stroke-linecap="round" stroke-linejoin="round"/></svg>
<div style="left:1550.5px;top:350px;width:6.9px;height:6.6px;background:#a4cdd6;"></div>
<div style="top:348.45px;font-size:8.7px;line-height:10.9px;color:#222;left:1561.2px;">2024 <span style="color:#777">(824 groups)</span></div>
<div style="left:1644.1px;top:352.6px;width:8.1px;height:1.3px;background:#333;"></div>
<div style="top:348.45px;font-size:8.7px;line-height:10.9px;color:#222;left:1656.2px;">2023 <span style="color:#777">(820 groups)</span></div>
<div style="top:368.6px;font-size:8.6px;line-height:10.8px;color:#2d2d2d;left:1550.5px;">100 groups</div>
<div style="left:1602.9px;top:373.6px;width:372.6px;height:0.8px;background:#dfe1e1;"></div>
<div style="top:395.3px;font-size:8.6px;line-height:10.8px;color:#2d2d2d;left:1550.5px;">50</div>
<div style="left:1564px;top:400.3px;width:411.5px;height:0.8px;background:#dfe1e1;"></div>
<div style="top:422px;font-size:8.6px;line-height:10.8px;color:#2d2d2d;left:1555.8px;">0</div>
<div style="left:1564px;top:425.4px;width:411.5px;height:0.8px;background:#dcdfdf;"></div>
<div style="left:1569.7px;top:395.3px;width:64.8px;height:30.5px;background:#a4cdd6;"></div>
<div style="left:1575.3px;top:402.5px;width:53.4px;height:1.2px;background:#3a3a3a;"></div>
<div style="left:1637.87px;top:407.2px;width:64.8px;height:18.6px;background:#a4cdd6;"></div>
<div style="left:1643.47px;top:393.5px;width:53.4px;height:1.2px;background:#3a3a3a;"></div>
<div style="left:1706.04px;top:381px;width:64.8px;height:44.8px;background:#a4cdd6;"></div>
<div style="left:1711.64px;top:386.2px;width:53.4px;height:1.2px;background:#3a3a3a;"></div>
<div style="left:1774.21px;top:397px;width:64.8px;height:28.8px;background:#a4cdd6;"></div>
<div style="left:1779.81px;top:393.4px;width:53.4px;height:1.2px;background:#3a3a3a;"></div>
<div style="left:1842.38px;top:400.9px;width:64.8px;height:24.9px;background:#a4cdd6;"></div>
<div style="left:1847.98px;top:394.2px;width:53.4px;height:1.2px;background:#3a3a3a;"></div>
<div style="left:1910.55px;top:418px;width:64.8px;height:7.8px;background:#a4cdd6;"></div>
<div style="left:1916.15px;top:420px;width:53.4px;height:1.2px;background:#3a3a3a;"></div>
<div style="left:1567.8px;top:430.5px;width:67.4px;height:8px;background:#d6e7e4;border-radius:4px;"></div>
<div style="top:428.9px;font-size:9.3px;line-height:11.6px;color:#5e6b6b;left:1567.8px;width:67.4px;text-align:center;">0-1k</div>
<div style="left:1636px;top:430.5px;width:67.4px;height:8px;background:#d6e7e4;border-radius:4px;"></div>
<div style="top:428.9px;font-size:9.3px;line-height:11.6px;color:#5e6b6b;left:1636px;width:67.4px;text-align:center;">1k-2k</div>
<div style="left:1704.2px;top:430.5px;width:67.4px;height:8px;background:#d6e7e4;border-radius:4px;"></div>
<div style="top:428.9px;font-size:9.3px;line-height:11.6px;color:#5e6b6b;left:1704.2px;width:67.4px;text-align:center;">2k-3k</div>
<div style="left:1772.4px;top:430.5px;width:67.4px;height:8px;background:#d6e7e4;border-radius:4px;"></div>
<div style="top:428.9px;font-size:9.3px;line-height:11.6px;color:#5e6b6b;left:1772.4px;width:67.4px;text-align:center;">3k-4k</div>
<div style="left:1840.6px;top:430.5px;width:67.4px;height:8px;background:#d6e7e4;border-radius:4px;"></div>
<div style="top:428.9px;font-size:9.3px;line-height:11.6px;color:#5e6b6b;left:1840.6px;width:67.4px;text-align:center;">4k-5k</div>
<div style="left:1908.8px;top:430.5px;width:67.4px;height:8px;background:#d6e7e4;border-radius:4px;"></div>
<div style="top:428.9px;font-size:9.3px;line-height:11.6px;color:#5e6b6b;left:1908.8px;width:67.4px;text-align:center;">5k+</div>
<div style="top:442.2px;font-size:8.6px;line-height:10.8px;color:#666;left:1568.2px;">Attributed members</div>
<div style="top:442.2px;font-size:8.6px;line-height:10.8px;color:#666;right:23.1px;">click to select one bucket, click &amp; drag to select multiple</div>
<div style="left:1547.5px;top:465.5px;width:430.5px;height:0.8px;background:#e2e4e4;"></div>
<div style="left:1637.7px;top:470.9px;width:37.3px;height:13.5px;background:#d6e7e4;border-radius:1px;"></div>
<div style="top:472px;font-size:8.5px;line-height:10.6px;color:#6f6f6f;left:1640.7px;">M:P</div>
<div style="left:1678.2px;top:470.9px;width:50.2px;height:13.5px;background:#d6e7e4;border-radius:1px;"></div>
<div style="top:472px;font-size:8.5px;line-height:10.6px;color:#6f6f6f;left:1681.2px;">Members</div>
<div style="left:1731.5px;top:470.9px;width:55.3px;height:13.5px;background:#d6e7e4;border-radius:1px;"></div>
<div style="top:472px;font-size:8.5px;line-height:10.6px;color:#6f6f6f;left:1734.5px;">Providers</div>
<div style="left:1789.8px;top:470.9px;width:48.9px;height:13.5px;background:#d6e7e4;border-radius:1px;"></div>
<div style="top:472px;font-size:8.5px;line-height:10.6px;color:#222;font-weight:700;left:1792.8px;">Compli.</div>
<div style="left:1841.7px;top:470.9px;width:45.7px;height:13.5px;background:#d6e7e4;border-radius:1px;"></div>
<div style="top:472px;font-size:8.5px;line-height:10.6px;color:#6f6f6f;left:1844.7px;">Denom.</div>
<div style="left:1890.4px;top:470.9px;width:82.5px;height:13.5px;background:#d6e7e4;border-radius:1px;"></div>
<div style="top:472px;font-size:8.5px;line-height:10.6px;color:#6f6f6f;left:1893.4px;">Goal progress</div>
<svg style="left:1828.4px;top:476px;" width="5.4" height="3.6" viewBox="0 0 5.4 3.6"><path d="M0,0 H5.4 L2.7,3.4 Z" fill="#222"/></svg>
<div style="left:1540px;top:529.8px;width:444px;height:36.2px;background:#ebedee;"></div>
<div style="left:1540px;top:603.8px;width:444px;height:36.2px;background:#ebedee;"></div>
<div style="top:502.5px;font-size:11.4px;line-height:14.2px;color:#1b5b95;left:1550.1px;"><u>Sure Partners</u></div>
<div style="left:1641.3px;top:503.4px;width:21.9px;height:15.8px;background:#e8b9df;"></div>
<div style="top:506.35px;font-size:8.4px;line-height:10.5px;color:#333;left:1637.25px;width:30px;text-align:center;">10.3</div>
<div style="top:500.2px;font-size:8.6px;line-height:10.8px;color:#2d2d2d;left:1681.7px;">4,019</div>
<div style="top:512.6px;font-size:8.6px;line-height:10.8px;color:#777;left:1681.7px;">3.2% total</div>
<div style="top:500.2px;font-size:8.6px;line-height:10.8px;color:#2d2d2d;left:1735.1px;">390</div>
<div style="top:512.6px;font-size:8.6px;line-height:10.8px;color:#777;left:1735.1px;">MD, DO, NP</div>
<div style="top:502.55px;font-size:12.1px;line-height:15.1px;color:#222;left:1793.2px;">11,994</div>
<div style="top:502.55px;font-size:12.1px;line-height:15.1px;color:#222;left:1845.2px;">20,962</div>
<div style="top:496.5px;font-size:23px;line-height:28.8px;color:#161616;left:1893.2px;letter-spacing:-0.45px;-webkit-text-stroke:0.32px #f4f4f4;">88</div>
<div style="top:506.5px;font-size:8.3px;line-height:10.4px;color:#333;left:1921.2px;"><span class="sb">%</span></div>
<div style="top:500.8px;font-size:8.6px;line-height:10.8px;color:#666;left:1936.1px;"><b>59</b> / 60</div>
<div style="top:510.3px;font-size:8.6px;line-height:10.8px;color:#777;left:1936.1px;">goals met</div>
<div style="left:1893px;top:522.25px;width:79.9px;height:4.1px;border:1px solid #8dbfcb;border-radius:1.5px;background:#fbfdfd;"></div>
<div style="left:1893px;top:522.25px;width:65.4px;height:4.1px;background:#6aaaba;border-radius:1px 0 0 1px;"></div>
<div style="left:1792.5px;top:522.25px;width:84.8px;height:4.1px;border:1px solid #8dbfcb;border-radius:1.5px;background:#fbfdfd;"></div>
<div style="left:1792.5px;top:522.25px;width:43.6px;height:4.1px;background:#6aaaba;border-radius:1px 0 0 1px;"></div>
<div style="top:540.1px;font-size:11.4px;line-height:14.2px;color:#1b5b95;left:1550.1px;"><u>AdvantCare</u></div>
<div style="left:1641.3px;top:541px;width:16.9px;height:15.8px;background:#ebc6e4;"></div>
<div style="top:543.95px;font-size:8.4px;line-height:10.5px;color:#333;left:1634.75px;width:30px;text-align:center;">7.5</div>
<div style="top:537.8px;font-size:8.6px;line-height:10.8px;color:#2d2d2d;left:1681.7px;">2,190</div>
<div style="top:550.2px;font-size:8.6px;line-height:10.8px;color:#777;left:1681.7px;">1.8% total</div>
<div style="top:537.8px;font-size:8.6px;line-height:10.8px;color:#2d2d2d;left:1735.1px;">291</div>
<div style="top:550.2px;font-size:8.6px;line-height:10.8px;color:#777;left:1735.1px;">MD, DO, NP</div>
<div style="top:540.15px;font-size:12.1px;line-height:15.1px;color:#222;left:1793.2px;">10,291</div>
<div style="top:540.15px;font-size:12.1px;line-height:15.1px;color:#222;left:1845.2px;">12,611</div>
<div style="top:543.4px;font-size:8.6px;line-height:10.8px;color:#777;left:1893.6px;">no goals set</div>
<div style="left:1792.5px;top:561.05px;width:46.6px;height:4.1px;border:1px solid #8dbfcb;border-radius:1.5px;background:#fbfdfd;"></div>
<div style="left:1792.5px;top:561.05px;width:37.5px;height:4.1px;background:#6aaaba;border-radius:1px 0 0 1px;"></div>
<div style="top:577px;font-size:11.4px;line-height:14.2px;color:#1b5b95;left:1550.1px;"><u>Singer Medical</u></div>
<div style="top:580.85px;font-size:8.4px;line-height:10.5px;color:#333;left:1643.9px;">3.2</div>
<div style="top:574.7px;font-size:8.6px;line-height:10.8px;color:#2d2d2d;left:1681.7px;">1,291</div>
<div style="top:587.1px;font-size:8.6px;line-height:10.8px;color:#777;left:1681.7px;">3.7% total</div>
<div style="top:574.7px;font-size:8.6px;line-height:10.8px;color:#2d2d2d;left:1735.1px;">401</div>
<div style="top:587.1px;font-size:8.6px;line-height:10.8px;color:#777;left:1735.1px;">MD, NP</div>
<div style="top:577.05px;font-size:12.1px;line-height:15.1px;color:#222;left:1793.2px;">8,612</div>
<div style="top:577.05px;font-size:12.1px;line-height:15.1px;color:#222;left:1845.2px;">15,632</div>
<div style="top:571px;font-size:23px;line-height:28.8px;color:#161616;left:1893.2px;letter-spacing:-0.45px;-webkit-text-stroke:0.32px #f4f4f4;">67</div>
<div style="top:581px;font-size:8.3px;line-height:10.4px;color:#333;left:1921.2px;"><span class="sb">%</span></div>
<div style="top:575.3px;font-size:8.6px;line-height:10.8px;color:#666;left:1936.1px;"><b>51</b> / 84</div>
<div style="top:584.8px;font-size:8.6px;line-height:10.8px;color:#777;left:1936.1px;">goals met</div>
<div style="left:1893px;top:596.75px;width:79.9px;height:4.1px;border:1px solid #8dbfcb;border-radius:1.5px;background:#fbfdfd;"></div>
<div style="left:1893px;top:596.75px;width:51px;height:4.1px;background:#6aaaba;border-radius:1px 0 0 1px;"></div>
<div style="left:1792.5px;top:596.75px;width:66.5px;height:4.1px;border:1px solid #8dbfcb;border-radius:1.5px;background:#fbfdfd;"></div>
<div style="left:1792.5px;top:596.75px;width:35.5px;height:4.1px;background:#6aaaba;border-radius:1px 0 0 1px;"></div>
<div style="top:614.1px;font-size:11.4px;line-height:14.2px;color:#1b5b95;left:1550.1px;"><u>University Med.</u></div>
<div style="top:617.95px;font-size:8.4px;line-height:10.5px;color:#333;left:1643.9px;">2.5</div>
<div style="top:611.8px;font-size:8.6px;line-height:10.8px;color:#2d2d2d;left:1681.7px;">510</div>
<div style="top:624.2px;font-size:8.6px;line-height:10.8px;color:#777;left:1681.7px;">2.7% total</div>
<div style="top:611.8px;font-size:8.6px;line-height:10.8px;color:#2d2d2d;left:1735.1px;">201</div>
<div style="top:624.2px;font-size:8.6px;line-height:10.8px;color:#777;left:1735.1px;">MD, DO</div>
<div style="top:614.15px;font-size:12.1px;line-height:15.1px;color:#222;left:1793.2px;">7,227</div>
<div style="top:614.15px;font-size:12.1px;line-height:15.1px;color:#222;left:1845.2px;">10,391</div>
<div style="top:608.1px;font-size:23px;line-height:28.8px;color:#161616;left:1893.2px;letter-spacing:-0.45px;-webkit-text-stroke:0.32px #ebedee;">20</div>
<div style="top:618.1px;font-size:8.3px;line-height:10.4px;color:#333;left:1921.2px;"><span class="sb">%</span></div>
<div style="top:612.4px;font-size:8.6px;line-height:10.8px;color:#666;left:1936.1px;"><b>23</b> / 60</div>
<div style="top:621.9px;font-size:8.6px;line-height:10.8px;color:#777;left:1936.1px;">goals met</div>
<div style="left:1893px;top:633.85px;width:79.9px;height:4.1px;border:1px solid #8dbfcb;border-radius:1.5px;background:#fbfdfd;"></div>
<div style="left:1893px;top:633.85px;width:14px;height:4.1px;background:#6aaaba;border-radius:1px 0 0 1px;"></div>
<div style="left:1792.5px;top:635.05px;width:37.5px;height:4.1px;border:1px solid #8dbfcb;border-radius:1.5px;background:#fbfdfd;"></div>
<div style="left:1792.5px;top:635.05px;width:30.5px;height:4.1px;background:#6aaaba;border-radius:1px 0 0 1px;"></div>
<div style="left:1550.1px;top:528.9px;width:427.9px;height:0.8px;background:#e9ebeb;"></div>
<div style="left:1550.1px;top:565.6px;width:427.9px;height:0.8px;background:#e9ebeb;"></div>
<div style="left:1658.5px;top:444.5px;width:113.2px;height:46.9px;background:rgba(52,52,52,0.94);box-shadow:0 1px 4px rgba(0,0,0,0.35);border-radius:1px;"></div>
<div style="top:449.4px;font-size:8.6px;line-height:10.8px;color:#fff;left:1663.4px;">Dave, could you look into</div>
<div style="top:461.9px;font-size:8.6px;line-height:10.8px;color:#fff;left:1663.4px;">why<span style="color:#ddd">|</span></div>
<div style="left:1639.1px;top:445px;width:17.2px;height:17.2px;background:#2d2d2d;border-radius:50%;border:1.3px solid #f6f6f6;"></div>
<div style="top:447.2px;font-size:10.4px;line-height:13px;color:#fff;font-weight:700;left:1639.7px;width:16px;text-align:center;">1</div>
</div></div>
<div style="left:1074.7px;top:152.5px;width:919.1px;height:71.2px;background:#f4f4f4;box-shadow:0 2px 4px rgba(0,0,0,0.22);"></div>
<div style="left:1074.7px;top:195.1px;width:919.1px;height:0.8px;background:#d9e6e6;"></div>
<div style="left:1930.2px;top:152.5px;width:1px;height:42.9px;background:#dbe7e7;"></div>
<svg style="left:1952.4px;top:166.8px;" width="19.6" height="14" viewBox="0 0 19.6 14"><path d="M9.8,0.2 V7" stroke="#0e4a86" stroke-width="2.5" fill="none"/><path d="M5.4,6.1 H14.2 L9.8,11 Z" fill="#0e4a86"/><path d="M0.8,9.9 L4,13.2 H15.6 L18.8,9.9" fill="none" stroke="#0e4a86" stroke-width="1.6" stroke-linecap="round" stroke-linejoin="round"/></svg>
<div style="left:1095.4px;top:164.4px;width:5.7px;height:5.7px;background:#5fa3a6;"></div>
<div style="top:159.9px;font-size:11.65px;line-height:14.6px;color:#1b5b95;left:1104.4px;">Dec 2024</div>
<div style="left:1158.8px;top:167.2px;width:8px;height:1.1px;background:#333;"></div>
<div style="top:162.15px;font-size:9.7px;line-height:12.1px;color:#1b5b95;left:1168.9px;transform:scaleX(0.86);transform-origin:0 50%;text-shadow:0.35px 0 0 currentColor;">Dec 2023</div>
<svg style="left:1209px;top:165.4px;" width="5.6" height="4" viewBox="0 0 5.6 4"><path d="M0.6,0.8 L2.8,3.2 L5,0.8" fill="none" stroke="#1b5b95" stroke-width="1.3" stroke-linecap="round" stroke-linejoin="round"/></svg>
<div style="top:176.35px;font-size:8.7px;line-height:10.9px;color:#2b2b2b;left:1095.2px;"><span style="color:#6f6f6f">timeframe</span> <span style="color:#1b5b95">12 <span class="sb">months back</span></span></div>
<div style="top:159.9px;font-size:11.65px;line-height:14.6px;color:#1b5b95;left:1235.4px;">All</div>
<svg style="left:1288.5px;top:165.35px;" width="5.8" height="4.1" viewBox="0 0 5.8 4.1"><path d="M0.6,0.8 L2.9,3.3 L5.2,0.8" fill="none" stroke="#1b5b95" stroke-width="1.3" stroke-linecap="round" stroke-linejoin="round"/></svg>
<div style="top:176.4px;font-size:8.6px;line-height:10.8px;color:#1b5b95;left:1235.4px;">98M&nbsp; <span class="sb">members</span></div>
<div style="top:159.9px;font-size:11.65px;line-height:14.6px;color:#1b5b95;left:1315.7px;">All 4</div>
<svg style="left:1373px;top:165.35px;" width="5.8" height="4.1" viewBox="0 0 5.8 4.1"><path d="M0.6,0.8 L2.9,3.3 L5.2,0.8" fill="none" stroke="#1b5b95" stroke-width="1.3" stroke-linecap="round" stroke-linejoin="round"/></svg>
<div style="top:176.45px;font-size:8.55px;line-height:10.7px;color:#7a7a7a;left:1315.7px;">lines of business</div>
<div style="top:159.9px;font-size:11.65px;line-height:14.6px;color:#1b5b95;left:1409.1px;">All 10</div>
<svg style="left:1445.8px;top:165.35px;" width="5.8" height="4.1" viewBox="0 0 5.8 4.1"><path d="M0.6,0.8 L2.9,3.3 L5.2,0.8" fill="none" stroke="#1b5b95" stroke-width="1.3" stroke-linecap="round" stroke-linejoin="round"/></svg>
<div style="top:176.45px;font-size:8.55px;line-height:10.7px;color:#7a7a7a;left:1409.1px;">regions</div>
<svg style="left:1095.2px;top:203.3px;" width="10.6" height="12.8" viewBox="0 0 10.6 12.8"><path d="M0.9,0.9 H9.7 L6.6,5.6 V10.3 L5.3,11.7 L4,10.3 V5.6 Z" fill="none" stroke="#2f6ca3" stroke-width="1.2" stroke-linejoin="round"/></svg>
<div style="top:205.65px;font-size:8.85px;line-height:11.1px;color:#606060;left:1113.2px;">filter by</div>
<div style="left:1148px;top:199.8px;width:35.4px;height:20px;background:#e8edf2;border-radius:1px;"></div>
<div style="top:205.6px;font-size:8.6px;line-height:10.8px;color:#1b5b95;left:1151.6px;">+ <span class="sb">filter</span></div>
<div style="top:204.8px;font-size:8.6px;line-height:10.8px;color:#1b5b95;left:1841.3px;"><u>Explore associated population</u></div>
<div style="left:1965px;top:195.9px;width:28.8px;height:27.8px;background:#4f86b1;"></div>
<svg style="left:1971.8px;top:204.2px;" width="14" height="11" viewBox="0 0 14 11"><path d="M0.8,5.5 H12.8 M8.4,1 L13,5.5 L8.4,10" fill="none" stroke="#fff" stroke-width="1.05" stroke-linecap="round" stroke-linejoin="round"/></svg>
<div style="left:1075px;top:151px;width:919px;height:1px;background:#3c7aad;"></div>
<div style="left:1075px;top:151px;width:1px;height:447.4px;background:#3c7aad;"></div>
<div style="left:1993px;top:151px;width:1px;height:447.4px;background:#3c7aad;"></div>
<div style="left:1075.4px;top:598.2px;width:918.4px;height:40.6px;background:rgba(56,56,56,0.93);"></div>
<div style="left:1075px;top:598px;width:1px;height:40.8px;background:#3c7aad;"></div>
<svg style="left:1088.8px;top:610.4px;" width="20.6" height="14.6" viewBox="0 0 20.6 14.6"><rect x="0.65" y="1.3" width="15.4" height="12.6" rx="1.6" fill="none" stroke="#e4e4e4" stroke-width="1.25"/><circle cx="4.9" cy="9.9" r="1.55" fill="none" stroke="#e4e4e4" stroke-width="1.15"/><rect x="7.8" y="6.2" width="2.7" height="5.6" rx="1.35" fill="none" stroke="#e4e4e4" stroke-width="1.15"/><rect x="11.7" y="6.2" width="2.7" height="5.6" rx="1.35" fill="none" stroke="#e4e4e4" stroke-width="1.15"/><circle cx="14.8" cy="4.5" r="5.5" fill="#3a3a3a"/><circle cx="14.8" cy="4.5" r="4" fill="#3a3a3a" stroke="#f0f0f0" stroke-width="1.35"/><path d="M12.4,4.5 H16.6 M14.9,2.5 L17,4.5 L14.9,6.5" fill="none" stroke="#f0f0f0" stroke-width="1.3" stroke-linecap="round" stroke-linejoin="round"/></svg>
<div style="top:615.3px;font-size:8.2px;line-height:10.2px;color:#fff;font-weight:700;left:1122px;">Choose recipient(s)</div>
<div style="left:1206.5px;top:607.9px;width:195.5px;height:21.9px;border:1px solid #dcdcdc;border-radius:2px;"></div>
<div style="top:614.6px;font-size:8.6px;line-height:10.8px;color:#fff;left:1215.3px;">David Lee</div>
<svg style="left:1388.8px;top:617.9px;" width="6" height="4.2" viewBox="0 0 6 4.2"><path d="M0.6,0.8 L3,3.4 L5.4,0.8" fill="none" stroke="#fff" stroke-width="1.3" stroke-linecap="round" stroke-linejoin="round"/></svg>
<div style="left:1414.2px;top:602px;width:0.8px;height:33.5px;background:#5a5a5a;"></div>
<div style="top:615.25px;font-size:8.25px;line-height:10.3px;color:#fff;font-weight:700;left:1522px;">Add comments by clicking on the screen</div>
<div style="left:1793.6px;top:602px;width:0.8px;height:33.5px;background:#5a5a5a;"></div>
<div style="left:1803.9px;top:607.9px;width:72.8px;height:21.9px;border:1px solid #cfcfcf;border-radius:2px;"></div>
<div style="top:614.55px;font-size:8.7px;line-height:10.9px;color:#fff;left:1804.3px;width:72px;text-align:center;">Cancel</div>
<div style="left:1882px;top:607.9px;width:101.3px;height:21.9px;background:#efefef;border-radius:2px;"></div>
<div style="top:614.55px;font-size:8.7px;line-height:10.9px;color:#1d1d1d;font-weight:700;left:1882.6px;width:100px;text-align:center;">Send</div>
<div style="top:0.7px;font-size:13.1px;line-height:16.4px;color:#262626;left:1075.7px;">Ultimately, the quality director will want to pass the responcibility on to a medical director or</div>
<div style="top:17.2px;font-size:13.1px;line-height:16.4px;color:#262626;left:1075.7px;letter-spacing:-0.12px;">other staff to investigate or track. This can be done through sending views and/or cohorts.</div>
<div style="left:1075.6px;top:682px;width:318px;height:78px;background:#f4f4f4;box-shadow:0 1px 5px rgba(0,0,0,0.3);"></div>
<div style="top:692.7px;font-size:11.4px;line-height:14.2px;color:#1c1c1c;font-weight:700;left:1085.4px;">EDIT SAVED VIEW DESCRIPTION</div>
<div style="left:1085.4px;top:712.2px;width:278px;height:0.8px;background:#ebebeb;"></div>
<div style="top:727px;font-size:8.6px;line-height:10.8px;color:#444;left:1094px;">Saved View Name</div>
<div style="left:1172px;top:721px;width:206.4px;height:21px;border:1px solid #79a8cf;border-radius:2px;background:#f7f8f9;box-shadow:0 0 2px rgba(90,150,200,0.5);"></div>
<div style="top:726.85px;font-size:8.9px;line-height:11.1px;color:#1b5b95;left:1179.4px;">Demi_patient_target-2024</div>
<svg style="left:0;top:0" width="2000" height="746" viewBox="0 0 2000 746"><path d="M902.2,69.4 C904.75,69.25 912.7,68.95 917.5,68.5 C922.3,68.05 926.5,67.67 931,66.7 C935.5,65.73 940,64.27 944.5,62.7 C949,61.13 953.5,59.33 958,57.3 C962.5,55.27 967,52.83 971.5,50.5 C976,48.17 980.5,45.62 985,43.3 C989.5,40.98 994,38.7 998.5,36.6 C1003,34.5 1007.5,32.43 1012,30.7 C1016.5,28.97 1021,27.4 1025.5,26.2 C1030,25 1034.5,24.15 1039,23.5 C1043.5,22.85 1048.1,22.52 1052.5,22.3 C1056.9,22.08 1063.25,22.22 1065.4,22.2" fill="none" stroke="#cc4f94" stroke-width="1" stroke-linecap="round" stroke-linejoin="round"/><path d="M1057.5,14.5 L1065.5,22.2 L1057.5,30.5" fill="none" stroke="#cc4f94" stroke-width="1" stroke-linecap="round" stroke-linejoin="round"/><path d="M508.5,60 V231" fill="none" stroke="#cc4f94" stroke-width="1" stroke-linecap="round" stroke-linejoin="round"/><path d="M500.4,223.4 L508.5,231.1 L516.7,223.4" fill="none" stroke="#cc4f94" stroke-width="1" stroke-linecap="round" stroke-linejoin="round"/><path d="M763.8,60 V231" fill="none" stroke="#cc4f94" stroke-width="1" stroke-linecap="round" stroke-linejoin="round"/><path d="M755.6,223.4 L763.8,231.1 L772,223.4" fill="none" stroke="#cc4f94" stroke-width="1" stroke-linecap="round" stroke-linejoin="round"/><path d="M507,538 C511.65,537.93 524.45,537.9 534.9,537.6 C545.35,537.3 558.08,536.95 569.7,536.2 C581.32,535.45 592.98,534.4 604.6,533.1 C616.22,531.8 627.78,530.2 639.4,528.4 C651.02,526.6 662.67,524.77 674.3,522.3 C685.93,519.83 697.58,516.95 709.2,513.6 C720.82,510.25 732.28,506.8 744,502.2 C755.72,497.6 767.68,492.27 779.5,486 C791.32,479.73 803.2,471.95 814.9,464.6 C826.6,457.25 838.08,449.17 849.7,441.9 C861.32,434.63 872.98,427.1 884.6,421 C896.22,414.9 907.78,409.95 919.4,405.3 C931.02,400.65 942.67,396.43 954.3,393.1 C965.93,389.77 977.58,387.27 989.2,385.3 C1000.82,383.33 1012.38,382.27 1024,381.3 C1035.62,380.33 1051.83,379.8 1058.9,379.5 C1065.97,379.2 1065.15,379.5 1066.4,379.5" fill="none" stroke="#cc4f94" stroke-width="1" stroke-linecap="round" stroke-linejoin="round"/><path d="M1058.5,372.2 L1066.4,379.5 L1058.5,387.5" fill="none" stroke="#cc4f94" stroke-width="1" stroke-linecap="round" stroke-linejoin="round"/><path d="M536.1,561.2 C541.7,561.32 558.28,561.47 569.7,561.9 C581.12,562.33 592.98,563 604.6,563.8 C616.22,564.6 627.78,565.48 639.4,566.7 C651.02,567.92 662.67,569.35 674.3,571.1 C685.93,572.85 697.58,574.73 709.2,577.2 C720.82,579.67 735.53,583.33 744,585.9 C752.47,588.47 751.52,588.72 760,592.6 C768.48,596.48 783.28,602.95 794.9,609.2 C806.52,615.45 818.08,622.85 829.7,630.1 C841.32,637.35 852.98,645.58 864.6,652.7 C876.22,659.82 887.78,666.83 899.4,672.8 C911.02,678.77 922.67,684.15 934.3,688.5 C945.93,692.85 957.58,696.08 969.2,698.9 C980.82,701.72 992.38,703.73 1004,705.4 C1015.62,707.07 1028.5,708.08 1038.9,708.9 C1049.3,709.72 1061.82,710.07 1066.4,710.3" fill="none" stroke="#cc4f94" stroke-width="1" stroke-linecap="round" stroke-linejoin="round"/><path d="M1058.9,702.4 L1066.4,710.3 L1058.9,718.1" fill="none" stroke="#cc4f94" stroke-width="1" stroke-linecap="round" stroke-linejoin="round"/></svg>
</body></html>
